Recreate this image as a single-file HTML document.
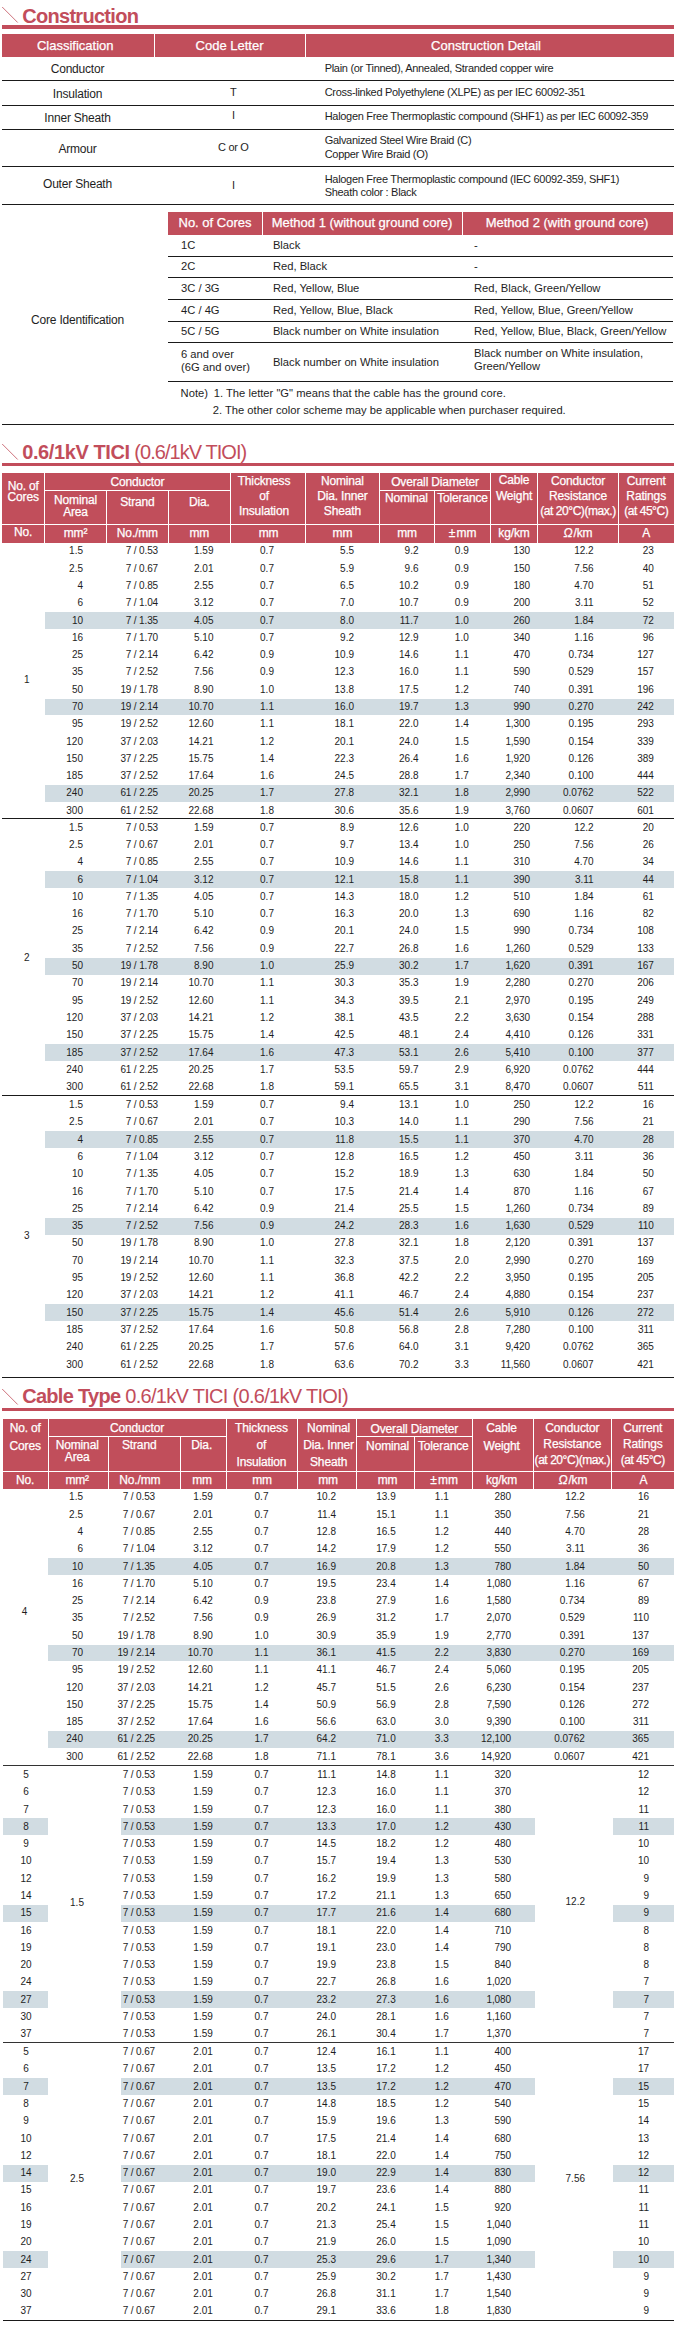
<!DOCTYPE html>
<html><head><meta charset="utf-8"><style>
html,body{margin:0;padding:0;background:#fff}
body{position:relative;width:676px;height:2325px;overflow:hidden;font-family:"Liberation Sans",sans-serif;color:#1e1e1e}
.b{position:absolute}
.t{position:absolute;white-space:pre;line-height:1}
.h{-webkit-text-stroke:0.25px #fff}
</style></head><body>
<svg class="b" style="left:0;top:6.00px" width="22" height="20"><line x1="2.2" y1="1" x2="17.7" y2="16.5" stroke="#c24d5b" stroke-width="1" stroke-opacity="0.8"/></svg>
<div class="t" style="left:22.2px;top:5.57px;font-size:20px;color:#c24d5b;letter-spacing:-0.7px"><span style="font-weight:700;letter-spacing:-0.7px">Construction</span></div>
<div class="b" style="left:2.00px;top:25.00px;width:672.00px;height:4.00px;background:#c24d5b"></div>
<div class="b" style="left:2.00px;top:34.00px;width:672.00px;height:23.00px;background:#c14e5b"></div>
<div class="b" style="left:153.50px;top:34.00px;width:1.20px;height:23.00px;background:#fff"></div>
<div class="b" style="left:304.50px;top:34.00px;width:1.20px;height:23.00px;background:#fff"></div>
<div class="t h" style="top:39px;font-size:13px;color:#fff;left:-224.80px;width:600px;text-align:center;">Classification</div>
<div class="t h" style="top:39px;font-size:13px;color:#fff;left:-70.50px;width:600px;text-align:center;">Code Letter</div>
<div class="t h" style="top:39px;font-size:13px;color:#fff;left:186.00px;width:600px;text-align:center;">Construction Detail</div>
<div class="b" style="left:2.00px;top:79.70px;width:672.00px;height:1.00px;background:#1a1a1a"></div>
<div class="b" style="left:2.00px;top:104.70px;width:672.00px;height:1.00px;background:#1a1a1a"></div>
<div class="b" style="left:2.00px;top:129.00px;width:672.00px;height:1.00px;background:#1a1a1a"></div>
<div class="b" style="left:2.00px;top:165.70px;width:672.00px;height:1.00px;background:#1a1a1a"></div>
<div class="b" style="left:2.00px;top:203.80px;width:672.00px;height:1.00px;background:#1a1a1a"></div>
<div class="b" style="left:2.00px;top:423.90px;width:672.00px;height:1.00px;background:#1a1a1a"></div>
<div class="t" style="top:63px;font-size:12px;letter-spacing:-0.2px;left:-222.50px;width:600px;text-align:center;">Conductor</div>
<div class="t" style="top:88px;font-size:12px;letter-spacing:-0.2px;left:-222.50px;width:600px;text-align:center;">Insulation</div>
<div class="t" style="top:112px;font-size:12px;letter-spacing:-0.2px;left:-222.50px;width:600px;text-align:center;">Inner Sheath</div>
<div class="t" style="top:143px;font-size:12px;letter-spacing:-0.2px;left:-222.50px;width:600px;text-align:center;">Armour</div>
<div class="t" style="top:178px;font-size:12px;letter-spacing:-0.2px;left:-222.50px;width:600px;text-align:center;">Outer Sheath</div>
<div class="t" style="top:314px;font-size:12px;letter-spacing:-0.2px;left:-222.50px;width:600px;text-align:center;">Core Identification</div>
<div class="t" style="top:87px;font-size:11px;letter-spacing:-0.3px;left:-66.70px;width:600px;text-align:center;">T</div>
<div class="t" style="top:110px;font-size:11px;letter-spacing:-0.3px;left:-66.70px;width:600px;text-align:center;">I</div>
<div class="t" style="top:142px;font-size:11px;letter-spacing:-0.3px;left:-66.70px;width:600px;text-align:center;">C or O</div>
<div class="t" style="top:180px;font-size:11px;letter-spacing:-0.3px;left:-66.70px;width:600px;text-align:center;">I</div>
<div class="t" style="top:63px;font-size:11px;letter-spacing:-0.3px;left:324.70px;">Plain (or Tinned), Annealed, Stranded copper wire</div>
<div class="t" style="top:87px;font-size:11px;letter-spacing:-0.3px;left:324.70px;">Cross-linked Polyethylene (XLPE) as per IEC 60092-351</div>
<div class="t" style="top:111px;font-size:11px;letter-spacing:-0.3px;left:324.70px;">Halogen Free Thermoplastic compound (SHF1) as per IEC 60092-359</div>
<div class="t" style="top:135px;font-size:11px;letter-spacing:-0.3px;left:324.70px;">Galvanized Steel Wire Braid (C)</div>
<div class="t" style="top:149px;font-size:11px;letter-spacing:-0.3px;left:324.70px;">Copper Wire Braid (O)</div>
<div class="t" style="top:174px;font-size:11px;letter-spacing:-0.3px;left:324.70px;">Halogen Free Thermoplastic compound (IEC 60092-359, SHF1)</div>
<div class="t" style="top:187px;font-size:11px;letter-spacing:-0.3px;left:324.70px;">Sheath color : Black</div>
<div class="b" style="left:168.00px;top:212.00px;width:505.00px;height:23.00px;background:#c14e5b"></div>
<div class="b" style="left:261.50px;top:212.00px;width:1.20px;height:23.00px;background:#fff"></div>
<div class="b" style="left:461.50px;top:212.00px;width:1.20px;height:23.00px;background:#fff"></div>
<div class="t h" style="top:216px;font-size:13px;color:#fff;left:-85.00px;width:600px;text-align:center;">No. of Cores</div>
<div class="t h" style="top:216px;font-size:13px;color:#fff;left:62.00px;width:600px;text-align:center;">Method 1 (without ground core)</div>
<div class="t h" style="top:216px;font-size:13px;color:#fff;left:267.00px;width:600px;text-align:center;">Method 2 (with ground core)</div>
<div class="b" style="left:168.00px;top:256.00px;width:505.00px;height:1.00px;background:#1a1a1a"></div>
<div class="b" style="left:168.00px;top:277.00px;width:505.00px;height:1.00px;background:#1a1a1a"></div>
<div class="b" style="left:168.00px;top:299.00px;width:505.00px;height:1.00px;background:#1a1a1a"></div>
<div class="b" style="left:168.00px;top:321.10px;width:505.00px;height:1.00px;background:#1a1a1a"></div>
<div class="b" style="left:168.00px;top:342.30px;width:505.00px;height:1.00px;background:#1a1a1a"></div>
<div class="b" style="left:168.00px;top:380.80px;width:505.00px;height:1.00px;background:#1a1a1a"></div>
<div class="t" style="top:240px;font-size:11.2px;left:181.00px;">1C</div>
<div class="t" style="top:240px;font-size:11.2px;left:272.90px;">Black</div>
<div class="t" style="top:240px;font-size:11.2px;left:474.00px;">-</div>
<div class="t" style="top:261px;font-size:11.2px;left:181.00px;">2C</div>
<div class="t" style="top:261px;font-size:11.2px;left:272.90px;">Red, Black</div>
<div class="t" style="top:261px;font-size:11.2px;left:474.00px;">-</div>
<div class="t" style="top:283px;font-size:11.2px;left:181.00px;">3C / 3G</div>
<div class="t" style="top:283px;font-size:11.2px;left:272.90px;">Red, Yellow, Blue</div>
<div class="t" style="top:283px;font-size:11.2px;left:474.00px;">Red, Black, Green/Yellow</div>
<div class="t" style="top:305px;font-size:11.2px;left:181.00px;">4C / 4G</div>
<div class="t" style="top:305px;font-size:11.2px;left:272.90px;">Red, Yellow, Blue, Black</div>
<div class="t" style="top:305px;font-size:11.2px;left:474.00px;">Red, Yellow, Blue, Green/Yellow</div>
<div class="t" style="top:326px;font-size:11.2px;left:181.00px;">5C / 5G</div>
<div class="t" style="top:326px;font-size:11.2px;left:272.90px;">Black number on White insulation</div>
<div class="t" style="top:326px;font-size:11.2px;left:474.00px;">Red, Yellow, Blue, Black, Green/Yellow</div>
<div class="t" style="top:349px;font-size:11.2px;left:181.00px;">6 and over</div>
<div class="t" style="top:362px;font-size:11.2px;left:181.00px;">(6G and over)</div>
<div class="t" style="top:357px;font-size:11.2px;left:272.90px;">Black number on White insulation</div>
<div class="t" style="top:348px;font-size:11.2px;left:474.00px;">Black number on White insulation,</div>
<div class="t" style="top:361px;font-size:11.2px;left:474.00px;">Green/Yellow</div>
<div class="t" style="top:388px;font-size:11.2px;left:180.60px;">Note)</div>
<div class="t" style="top:388px;font-size:11.2px;left:213.80px;">1. The letter "G" means that the cable has the ground core.</div>
<div class="t" style="top:405px;font-size:11.2px;left:212.70px;">2. The other color scheme may be applicable when purchaser required.</div>
<svg class="b" style="left:0;top:443.00px" width="22" height="20"><line x1="2.2" y1="1" x2="17.7" y2="16.5" stroke="#c24d5b" stroke-width="1" stroke-opacity="0.8"/></svg>
<div class="t" style="left:22.2px;top:442.07px;font-size:20px;color:#c24d5b;letter-spacing:-0.7px"><span style="font-weight:700;letter-spacing:-0.4px">0.6/1kV TICI</span><span style="font-weight:400;letter-spacing:-0.95px"> (0.6/1kV TIOI)</span></div>
<div class="b" style="left:2.00px;top:463.00px;width:672.00px;height:3.00px;background:#c24d5b"></div>
<div class="b" style="left:2.00px;top:473.00px;width:672.00px;height:69.60px;background:#c14e5b"></div>
<div class="b" style="left:44.00px;top:473.00px;width:1.00px;height:69.60px;background:#fff"></div>
<div class="b" style="left:106.00px;top:490.20px;width:1.00px;height:52.40px;background:#fff"></div>
<div class="b" style="left:168.00px;top:490.20px;width:1.00px;height:52.40px;background:#fff"></div>
<div class="b" style="left:230.00px;top:473.00px;width:1.00px;height:69.60px;background:#fff"></div>
<div class="b" style="left:305.00px;top:473.00px;width:1.00px;height:69.60px;background:#fff"></div>
<div class="b" style="left:379.00px;top:473.00px;width:1.00px;height:69.60px;background:#fff"></div>
<div class="b" style="left:434.00px;top:490.20px;width:1.00px;height:52.40px;background:#fff"></div>
<div class="b" style="left:490.00px;top:473.00px;width:1.00px;height:69.60px;background:#fff"></div>
<div class="b" style="left:537.00px;top:473.00px;width:1.00px;height:69.60px;background:#fff"></div>
<div class="b" style="left:618.00px;top:473.00px;width:1.00px;height:69.60px;background:#fff"></div>
<div class="b" style="left:44.40px;top:490.00px;width:186.00px;height:1.00px;background:#fff"></div>
<div class="b" style="left:379.50px;top:490.00px;width:110.90px;height:1.00px;background:#fff"></div>
<div class="b" style="left:2.00px;top:524.00px;width:672.00px;height:1.00px;background:#fff"></div>
<div class="t h" style="top:480px;font-size:12px;color:#fff;letter-spacing:-0.15px;left:-276.80px;width:600px;text-align:center;">No. of</div>
<div class="t h" style="top:491px;font-size:12px;color:#fff;letter-spacing:-0.15px;left:-276.80px;width:600px;text-align:center;">Cores</div>
<div class="t h" style="top:476px;font-size:12px;color:#fff;letter-spacing:-0.15px;left:-162.60px;width:600px;text-align:center;">Conductor</div>
<div class="t h" style="top:494px;font-size:12px;color:#fff;letter-spacing:-0.15px;left:-224.50px;width:600px;text-align:center;">Nominal</div>
<div class="t h" style="top:506px;font-size:12px;color:#fff;letter-spacing:-0.15px;left:-224.50px;width:600px;text-align:center;">Area</div>
<div class="t h" style="top:496px;font-size:12px;color:#fff;letter-spacing:-0.15px;left:-162.60px;width:600px;text-align:center;">Strand</div>
<div class="t h" style="top:496px;font-size:12px;color:#fff;letter-spacing:-0.15px;left:-100.70px;width:600px;text-align:center;">Dia.</div>
<div class="t h" style="top:475px;font-size:12px;color:#fff;letter-spacing:-0.15px;left:-36.00px;width:600px;text-align:center;">Thickness</div>
<div class="t h" style="top:490px;font-size:12px;color:#fff;letter-spacing:-0.15px;left:-36.00px;width:600px;text-align:center;">of</div>
<div class="t h" style="top:505px;font-size:12px;color:#fff;letter-spacing:-0.15px;left:-36.00px;width:600px;text-align:center;">Insulation</div>
<div class="t h" style="top:475px;font-size:12px;color:#fff;letter-spacing:-0.15px;left:42.40px;width:600px;text-align:center;">Nominal</div>
<div class="t h" style="top:490px;font-size:12px;color:#fff;letter-spacing:-0.15px;left:42.40px;width:600px;text-align:center;">Dia. Inner</div>
<div class="t h" style="top:505px;font-size:12px;color:#fff;letter-spacing:-0.15px;left:42.40px;width:600px;text-align:center;">Sheath</div>
<div class="t h" style="top:476px;font-size:12px;color:#fff;letter-spacing:-0.15px;left:135.00px;width:600px;text-align:center;">Overall Diameter</div>
<div class="t h" style="top:492px;font-size:12px;color:#fff;letter-spacing:-0.15px;left:106.40px;width:600px;text-align:center;">Nominal</div>
<div class="t h" style="top:492px;font-size:12px;color:#fff;letter-spacing:-0.15px;left:162.50px;width:600px;text-align:center;">Tolerance</div>
<div class="t h" style="top:474px;font-size:12px;color:#fff;letter-spacing:-0.15px;left:214.00px;width:600px;text-align:center;">Cable</div>
<div class="t h" style="top:490px;font-size:12px;color:#fff;letter-spacing:-0.15px;left:214.00px;width:600px;text-align:center;">Weight</div>
<div class="t h" style="top:475px;font-size:12px;color:#fff;letter-spacing:-0.15px;left:278.00px;width:600px;text-align:center;">Conductor</div>
<div class="t h" style="top:490px;font-size:12px;color:#fff;letter-spacing:-0.15px;left:278.00px;width:600px;text-align:center;">Resistance</div>
<div class="t h" style="top:505px;font-size:12px;color:#fff;letter-spacing:-0.45px;left:278.00px;width:600px;text-align:center;">(at 20°C)(max.)</div>
<div class="t h" style="top:475px;font-size:12px;color:#fff;letter-spacing:-0.15px;left:346.20px;width:600px;text-align:center;">Current</div>
<div class="t h" style="top:490px;font-size:12px;color:#fff;letter-spacing:-0.15px;left:346.20px;width:600px;text-align:center;">Ratings</div>
<div class="t h" style="top:505px;font-size:12px;color:#fff;letter-spacing:-0.45px;left:346.20px;width:600px;text-align:center;">(at 45°C)</div>
<div class="t h" style="top:526px;font-size:12px;color:#fff;letter-spacing:-0.15px;left:-276.80px;width:600px;text-align:center;">No.</div>
<div class="t h" style="top:527px;font-size:12px;color:#fff;letter-spacing:-0.15px;left:-224.50px;width:600px;text-align:center;">mm²</div>
<div class="t h" style="top:527px;font-size:12px;color:#fff;letter-spacing:-0.15px;left:-162.60px;width:600px;text-align:center;">No./mm</div>
<div class="t h" style="top:527px;font-size:12px;color:#fff;letter-spacing:-0.15px;left:-100.70px;width:600px;text-align:center;">mm</div>
<div class="t h" style="top:527px;font-size:12px;color:#fff;letter-spacing:-0.15px;left:-31.40px;width:600px;text-align:center;">mm</div>
<div class="t h" style="top:527px;font-size:12px;color:#fff;letter-spacing:-0.15px;left:42.40px;width:600px;text-align:center;">mm</div>
<div class="t h" style="top:527px;font-size:12px;color:#fff;letter-spacing:-0.15px;left:107.00px;width:600px;text-align:center;">mm</div>
<div class="t h" style="top:527px;font-size:12px;color:#fff;letter-spacing:-0.15px;left:162.50px;width:600px;text-align:center;"><span style="margin-right:1.5px">±</span>mm</div>
<div class="t h" style="top:527px;font-size:12px;color:#fff;letter-spacing:-0.15px;left:214.00px;width:600px;text-align:center;">kg/km</div>
<div class="t h" style="top:527px;font-size:12px;color:#fff;letter-spacing:-0.15px;left:278.00px;width:600px;text-align:center;"><i style="margin-right:1px">Ω</i>/km</div>
<div class="t h" style="top:527px;font-size:12px;color:#fff;letter-spacing:-0.15px;left:346.20px;width:600px;text-align:center;">A</div>
<div class="b" style="left:44.90px;top:612.16px;width:629.10px;height:16.89px;background:#d1dce2"></div>
<div class="b" style="left:44.90px;top:698.61px;width:629.10px;height:16.89px;background:#d1dce2"></div>
<div class="b" style="left:44.90px;top:785.06px;width:629.10px;height:16.89px;background:#d1dce2"></div>
<div class="t" style="top:546px;font-size:10px;left:-517.00px;width:600px;text-align:right;">1.5</div>
<div class="t" style="top:546px;font-size:10px;letter-spacing:-0.15px;left:-442.00px;width:600px;text-align:right;">7 / 0.53</div>
<div class="t" style="top:546px;font-size:10px;left:-386.50px;width:600px;text-align:right;">1.59</div>
<div class="t" style="top:546px;font-size:10px;left:-33.00px;width:600px;text-align:center;">0.7</div>
<div class="t" style="top:546px;font-size:10px;left:-246.00px;width:600px;text-align:right;">5.5</div>
<div class="t" style="top:546px;font-size:10px;left:-181.50px;width:600px;text-align:right;">9.2</div>
<div class="t" style="top:546px;font-size:10px;left:161.80px;width:600px;text-align:center;">0.9</div>
<div class="t" style="top:546px;font-size:10px;letter-spacing:-0.1px;left:-70.10px;width:600px;text-align:right;">130</div>
<div class="t" style="top:546px;font-size:10px;left:-6.40px;width:600px;text-align:right;">12.2</div>
<div class="t" style="top:546px;font-size:10px;left:53.90px;width:600px;text-align:right;">23</div>
<div class="t" style="top:564px;font-size:10px;left:-517.00px;width:600px;text-align:right;">2.5</div>
<div class="t" style="top:564px;font-size:10px;letter-spacing:-0.15px;left:-442.00px;width:600px;text-align:right;">7 / 0.67</div>
<div class="t" style="top:564px;font-size:10px;left:-386.50px;width:600px;text-align:right;">2.01</div>
<div class="t" style="top:564px;font-size:10px;left:-33.00px;width:600px;text-align:center;">0.7</div>
<div class="t" style="top:564px;font-size:10px;left:-246.00px;width:600px;text-align:right;">5.9</div>
<div class="t" style="top:564px;font-size:10px;left:-181.50px;width:600px;text-align:right;">9.6</div>
<div class="t" style="top:564px;font-size:10px;left:161.80px;width:600px;text-align:center;">0.9</div>
<div class="t" style="top:564px;font-size:10px;letter-spacing:-0.1px;left:-70.10px;width:600px;text-align:right;">150</div>
<div class="t" style="top:564px;font-size:10px;left:-6.40px;width:600px;text-align:right;">7.56</div>
<div class="t" style="top:564px;font-size:10px;left:53.90px;width:600px;text-align:right;">40</div>
<div class="t" style="top:581px;font-size:10px;left:-517.00px;width:600px;text-align:right;">4</div>
<div class="t" style="top:581px;font-size:10px;letter-spacing:-0.15px;left:-442.00px;width:600px;text-align:right;">7 / 0.85</div>
<div class="t" style="top:581px;font-size:10px;left:-386.50px;width:600px;text-align:right;">2.55</div>
<div class="t" style="top:581px;font-size:10px;left:-33.00px;width:600px;text-align:center;">0.7</div>
<div class="t" style="top:581px;font-size:10px;left:-246.00px;width:600px;text-align:right;">6.5</div>
<div class="t" style="top:581px;font-size:10px;left:-181.50px;width:600px;text-align:right;">10.2</div>
<div class="t" style="top:581px;font-size:10px;left:161.80px;width:600px;text-align:center;">0.9</div>
<div class="t" style="top:581px;font-size:10px;letter-spacing:-0.1px;left:-70.10px;width:600px;text-align:right;">180</div>
<div class="t" style="top:581px;font-size:10px;left:-6.40px;width:600px;text-align:right;">4.70</div>
<div class="t" style="top:581px;font-size:10px;left:53.90px;width:600px;text-align:right;">51</div>
<div class="t" style="top:598px;font-size:10px;left:-517.00px;width:600px;text-align:right;">6</div>
<div class="t" style="top:598px;font-size:10px;letter-spacing:-0.15px;left:-442.00px;width:600px;text-align:right;">7 / 1.04</div>
<div class="t" style="top:598px;font-size:10px;left:-386.50px;width:600px;text-align:right;">3.12</div>
<div class="t" style="top:598px;font-size:10px;left:-33.00px;width:600px;text-align:center;">0.7</div>
<div class="t" style="top:598px;font-size:10px;left:-246.00px;width:600px;text-align:right;">7.0</div>
<div class="t" style="top:598px;font-size:10px;left:-181.50px;width:600px;text-align:right;">10.7</div>
<div class="t" style="top:598px;font-size:10px;left:161.80px;width:600px;text-align:center;">0.9</div>
<div class="t" style="top:598px;font-size:10px;letter-spacing:-0.1px;left:-70.10px;width:600px;text-align:right;">200</div>
<div class="t" style="top:598px;font-size:10px;left:-6.40px;width:600px;text-align:right;">3.11</div>
<div class="t" style="top:598px;font-size:10px;left:53.90px;width:600px;text-align:right;">52</div>
<div class="t" style="top:616px;font-size:10px;left:-517.00px;width:600px;text-align:right;">10</div>
<div class="t" style="top:616px;font-size:10px;letter-spacing:-0.15px;left:-442.00px;width:600px;text-align:right;">7 / 1.35</div>
<div class="t" style="top:616px;font-size:10px;left:-386.50px;width:600px;text-align:right;">4.05</div>
<div class="t" style="top:616px;font-size:10px;left:-33.00px;width:600px;text-align:center;">0.7</div>
<div class="t" style="top:616px;font-size:10px;left:-246.00px;width:600px;text-align:right;">8.0</div>
<div class="t" style="top:616px;font-size:10px;left:-181.50px;width:600px;text-align:right;">11.7</div>
<div class="t" style="top:616px;font-size:10px;left:161.80px;width:600px;text-align:center;">1.0</div>
<div class="t" style="top:616px;font-size:10px;letter-spacing:-0.1px;left:-70.10px;width:600px;text-align:right;">260</div>
<div class="t" style="top:616px;font-size:10px;left:-6.40px;width:600px;text-align:right;">1.84</div>
<div class="t" style="top:616px;font-size:10px;left:53.90px;width:600px;text-align:right;">72</div>
<div class="t" style="top:633px;font-size:10px;left:-517.00px;width:600px;text-align:right;">16</div>
<div class="t" style="top:633px;font-size:10px;letter-spacing:-0.15px;left:-442.00px;width:600px;text-align:right;">7 / 1.70</div>
<div class="t" style="top:633px;font-size:10px;left:-386.50px;width:600px;text-align:right;">5.10</div>
<div class="t" style="top:633px;font-size:10px;left:-33.00px;width:600px;text-align:center;">0.7</div>
<div class="t" style="top:633px;font-size:10px;left:-246.00px;width:600px;text-align:right;">9.2</div>
<div class="t" style="top:633px;font-size:10px;left:-181.50px;width:600px;text-align:right;">12.9</div>
<div class="t" style="top:633px;font-size:10px;left:161.80px;width:600px;text-align:center;">1.0</div>
<div class="t" style="top:633px;font-size:10px;letter-spacing:-0.1px;left:-70.10px;width:600px;text-align:right;">340</div>
<div class="t" style="top:633px;font-size:10px;left:-6.40px;width:600px;text-align:right;">1.16</div>
<div class="t" style="top:633px;font-size:10px;left:53.90px;width:600px;text-align:right;">96</div>
<div class="t" style="top:650px;font-size:10px;left:-517.00px;width:600px;text-align:right;">25</div>
<div class="t" style="top:650px;font-size:10px;letter-spacing:-0.15px;left:-442.00px;width:600px;text-align:right;">7 / 2.14</div>
<div class="t" style="top:650px;font-size:10px;left:-386.50px;width:600px;text-align:right;">6.42</div>
<div class="t" style="top:650px;font-size:10px;left:-33.00px;width:600px;text-align:center;">0.9</div>
<div class="t" style="top:650px;font-size:10px;left:-246.00px;width:600px;text-align:right;">10.9</div>
<div class="t" style="top:650px;font-size:10px;left:-181.50px;width:600px;text-align:right;">14.6</div>
<div class="t" style="top:650px;font-size:10px;left:161.80px;width:600px;text-align:center;">1.1</div>
<div class="t" style="top:650px;font-size:10px;letter-spacing:-0.1px;left:-70.10px;width:600px;text-align:right;">470</div>
<div class="t" style="top:650px;font-size:10px;left:-6.40px;width:600px;text-align:right;">0.734</div>
<div class="t" style="top:650px;font-size:10px;left:53.90px;width:600px;text-align:right;">127</div>
<div class="t" style="top:667px;font-size:10px;left:-517.00px;width:600px;text-align:right;">35</div>
<div class="t" style="top:667px;font-size:10px;letter-spacing:-0.15px;left:-442.00px;width:600px;text-align:right;">7 / 2.52</div>
<div class="t" style="top:667px;font-size:10px;left:-386.50px;width:600px;text-align:right;">7.56</div>
<div class="t" style="top:667px;font-size:10px;left:-33.00px;width:600px;text-align:center;">0.9</div>
<div class="t" style="top:667px;font-size:10px;left:-246.00px;width:600px;text-align:right;">12.3</div>
<div class="t" style="top:667px;font-size:10px;left:-181.50px;width:600px;text-align:right;">16.0</div>
<div class="t" style="top:667px;font-size:10px;left:161.80px;width:600px;text-align:center;">1.1</div>
<div class="t" style="top:667px;font-size:10px;letter-spacing:-0.1px;left:-70.10px;width:600px;text-align:right;">590</div>
<div class="t" style="top:667px;font-size:10px;left:-6.40px;width:600px;text-align:right;">0.529</div>
<div class="t" style="top:667px;font-size:10px;left:53.90px;width:600px;text-align:right;">157</div>
<div class="t" style="top:685px;font-size:10px;left:-517.00px;width:600px;text-align:right;">50</div>
<div class="t" style="top:685px;font-size:10px;letter-spacing:-0.15px;left:-442.00px;width:600px;text-align:right;">19 / 1.78</div>
<div class="t" style="top:685px;font-size:10px;left:-386.50px;width:600px;text-align:right;">8.90</div>
<div class="t" style="top:685px;font-size:10px;left:-33.00px;width:600px;text-align:center;">1.0</div>
<div class="t" style="top:685px;font-size:10px;left:-246.00px;width:600px;text-align:right;">13.8</div>
<div class="t" style="top:685px;font-size:10px;left:-181.50px;width:600px;text-align:right;">17.5</div>
<div class="t" style="top:685px;font-size:10px;left:161.80px;width:600px;text-align:center;">1.2</div>
<div class="t" style="top:685px;font-size:10px;letter-spacing:-0.1px;left:-70.10px;width:600px;text-align:right;">740</div>
<div class="t" style="top:685px;font-size:10px;left:-6.40px;width:600px;text-align:right;">0.391</div>
<div class="t" style="top:685px;font-size:10px;left:53.90px;width:600px;text-align:right;">196</div>
<div class="t" style="top:702px;font-size:10px;left:-517.00px;width:600px;text-align:right;">70</div>
<div class="t" style="top:702px;font-size:10px;letter-spacing:-0.15px;left:-442.00px;width:600px;text-align:right;">19 / 2.14</div>
<div class="t" style="top:702px;font-size:10px;left:-386.50px;width:600px;text-align:right;">10.70</div>
<div class="t" style="top:702px;font-size:10px;left:-33.00px;width:600px;text-align:center;">1.1</div>
<div class="t" style="top:702px;font-size:10px;left:-246.00px;width:600px;text-align:right;">16.0</div>
<div class="t" style="top:702px;font-size:10px;left:-181.50px;width:600px;text-align:right;">19.7</div>
<div class="t" style="top:702px;font-size:10px;left:161.80px;width:600px;text-align:center;">1.3</div>
<div class="t" style="top:702px;font-size:10px;letter-spacing:-0.1px;left:-70.10px;width:600px;text-align:right;">990</div>
<div class="t" style="top:702px;font-size:10px;left:-6.40px;width:600px;text-align:right;">0.270</div>
<div class="t" style="top:702px;font-size:10px;left:53.90px;width:600px;text-align:right;">242</div>
<div class="t" style="top:719px;font-size:10px;left:-517.00px;width:600px;text-align:right;">95</div>
<div class="t" style="top:719px;font-size:10px;letter-spacing:-0.15px;left:-442.00px;width:600px;text-align:right;">19 / 2.52</div>
<div class="t" style="top:719px;font-size:10px;left:-386.50px;width:600px;text-align:right;">12.60</div>
<div class="t" style="top:719px;font-size:10px;left:-33.00px;width:600px;text-align:center;">1.1</div>
<div class="t" style="top:719px;font-size:10px;left:-246.00px;width:600px;text-align:right;">18.1</div>
<div class="t" style="top:719px;font-size:10px;left:-181.50px;width:600px;text-align:right;">22.0</div>
<div class="t" style="top:719px;font-size:10px;left:161.80px;width:600px;text-align:center;">1.4</div>
<div class="t" style="top:719px;font-size:10px;letter-spacing:-0.1px;left:-70.10px;width:600px;text-align:right;">1,300</div>
<div class="t" style="top:719px;font-size:10px;left:-6.40px;width:600px;text-align:right;">0.195</div>
<div class="t" style="top:719px;font-size:10px;left:53.90px;width:600px;text-align:right;">293</div>
<div class="t" style="top:737px;font-size:10px;left:-517.00px;width:600px;text-align:right;">120</div>
<div class="t" style="top:737px;font-size:10px;letter-spacing:-0.15px;left:-442.00px;width:600px;text-align:right;">37 / 2.03</div>
<div class="t" style="top:737px;font-size:10px;left:-386.50px;width:600px;text-align:right;">14.21</div>
<div class="t" style="top:737px;font-size:10px;left:-33.00px;width:600px;text-align:center;">1.2</div>
<div class="t" style="top:737px;font-size:10px;left:-246.00px;width:600px;text-align:right;">20.1</div>
<div class="t" style="top:737px;font-size:10px;left:-181.50px;width:600px;text-align:right;">24.0</div>
<div class="t" style="top:737px;font-size:10px;left:161.80px;width:600px;text-align:center;">1.5</div>
<div class="t" style="top:737px;font-size:10px;letter-spacing:-0.1px;left:-70.10px;width:600px;text-align:right;">1,590</div>
<div class="t" style="top:737px;font-size:10px;left:-6.40px;width:600px;text-align:right;">0.154</div>
<div class="t" style="top:737px;font-size:10px;left:53.90px;width:600px;text-align:right;">339</div>
<div class="t" style="top:754px;font-size:10px;left:-517.00px;width:600px;text-align:right;">150</div>
<div class="t" style="top:754px;font-size:10px;letter-spacing:-0.15px;left:-442.00px;width:600px;text-align:right;">37 / 2.25</div>
<div class="t" style="top:754px;font-size:10px;left:-386.50px;width:600px;text-align:right;">15.75</div>
<div class="t" style="top:754px;font-size:10px;left:-33.00px;width:600px;text-align:center;">1.4</div>
<div class="t" style="top:754px;font-size:10px;left:-246.00px;width:600px;text-align:right;">22.3</div>
<div class="t" style="top:754px;font-size:10px;left:-181.50px;width:600px;text-align:right;">26.4</div>
<div class="t" style="top:754px;font-size:10px;left:161.80px;width:600px;text-align:center;">1.6</div>
<div class="t" style="top:754px;font-size:10px;letter-spacing:-0.1px;left:-70.10px;width:600px;text-align:right;">1,920</div>
<div class="t" style="top:754px;font-size:10px;left:-6.40px;width:600px;text-align:right;">0.126</div>
<div class="t" style="top:754px;font-size:10px;left:53.90px;width:600px;text-align:right;">389</div>
<div class="t" style="top:771px;font-size:10px;left:-517.00px;width:600px;text-align:right;">185</div>
<div class="t" style="top:771px;font-size:10px;letter-spacing:-0.15px;left:-442.00px;width:600px;text-align:right;">37 / 2.52</div>
<div class="t" style="top:771px;font-size:10px;left:-386.50px;width:600px;text-align:right;">17.64</div>
<div class="t" style="top:771px;font-size:10px;left:-33.00px;width:600px;text-align:center;">1.6</div>
<div class="t" style="top:771px;font-size:10px;left:-246.00px;width:600px;text-align:right;">24.5</div>
<div class="t" style="top:771px;font-size:10px;left:-181.50px;width:600px;text-align:right;">28.8</div>
<div class="t" style="top:771px;font-size:10px;left:161.80px;width:600px;text-align:center;">1.7</div>
<div class="t" style="top:771px;font-size:10px;letter-spacing:-0.1px;left:-70.10px;width:600px;text-align:right;">2,340</div>
<div class="t" style="top:771px;font-size:10px;left:-6.40px;width:600px;text-align:right;">0.100</div>
<div class="t" style="top:771px;font-size:10px;left:53.90px;width:600px;text-align:right;">444</div>
<div class="t" style="top:788px;font-size:10px;left:-517.00px;width:600px;text-align:right;">240</div>
<div class="t" style="top:788px;font-size:10px;letter-spacing:-0.15px;left:-442.00px;width:600px;text-align:right;">61 / 2.25</div>
<div class="t" style="top:788px;font-size:10px;left:-386.50px;width:600px;text-align:right;">20.25</div>
<div class="t" style="top:788px;font-size:10px;left:-33.00px;width:600px;text-align:center;">1.7</div>
<div class="t" style="top:788px;font-size:10px;left:-246.00px;width:600px;text-align:right;">27.8</div>
<div class="t" style="top:788px;font-size:10px;left:-181.50px;width:600px;text-align:right;">32.1</div>
<div class="t" style="top:788px;font-size:10px;left:161.80px;width:600px;text-align:center;">1.8</div>
<div class="t" style="top:788px;font-size:10px;letter-spacing:-0.1px;left:-70.10px;width:600px;text-align:right;">2,990</div>
<div class="t" style="top:788px;font-size:10px;left:-6.40px;width:600px;text-align:right;">0.0762</div>
<div class="t" style="top:788px;font-size:10px;left:53.90px;width:600px;text-align:right;">522</div>
<div class="t" style="top:806px;font-size:10px;left:-517.00px;width:600px;text-align:right;">300</div>
<div class="t" style="top:806px;font-size:10px;letter-spacing:-0.15px;left:-442.00px;width:600px;text-align:right;">61 / 2.52</div>
<div class="t" style="top:806px;font-size:10px;left:-386.50px;width:600px;text-align:right;">22.68</div>
<div class="t" style="top:806px;font-size:10px;left:-33.00px;width:600px;text-align:center;">1.8</div>
<div class="t" style="top:806px;font-size:10px;left:-246.00px;width:600px;text-align:right;">30.6</div>
<div class="t" style="top:806px;font-size:10px;left:-181.50px;width:600px;text-align:right;">35.6</div>
<div class="t" style="top:806px;font-size:10px;left:161.80px;width:600px;text-align:center;">1.9</div>
<div class="t" style="top:806px;font-size:10px;letter-spacing:-0.1px;left:-70.10px;width:600px;text-align:right;">3,760</div>
<div class="t" style="top:806px;font-size:10px;left:-6.40px;width:600px;text-align:right;">0.0607</div>
<div class="t" style="top:806px;font-size:10px;left:53.90px;width:600px;text-align:right;">601</div>
<div class="t" style="top:675px;font-size:10px;left:-273.20px;width:600px;text-align:center;">1</div>
<div class="b" style="left:2.00px;top:817.80px;width:672.00px;height:1.00px;background:#1a1a1a"></div>
<div class="b" style="left:44.90px;top:871.27px;width:629.10px;height:16.89px;background:#d1dce2"></div>
<div class="b" style="left:44.90px;top:957.72px;width:629.10px;height:16.89px;background:#d1dce2"></div>
<div class="b" style="left:44.90px;top:1044.17px;width:629.10px;height:16.89px;background:#d1dce2"></div>
<div class="t" style="top:823px;font-size:10px;left:-517.00px;width:600px;text-align:right;">1.5</div>
<div class="t" style="top:823px;font-size:10px;letter-spacing:-0.15px;left:-442.00px;width:600px;text-align:right;">7 / 0.53</div>
<div class="t" style="top:823px;font-size:10px;left:-386.50px;width:600px;text-align:right;">1.59</div>
<div class="t" style="top:823px;font-size:10px;left:-33.00px;width:600px;text-align:center;">0.7</div>
<div class="t" style="top:823px;font-size:10px;left:-246.00px;width:600px;text-align:right;">8.9</div>
<div class="t" style="top:823px;font-size:10px;left:-181.50px;width:600px;text-align:right;">12.6</div>
<div class="t" style="top:823px;font-size:10px;left:161.80px;width:600px;text-align:center;">1.0</div>
<div class="t" style="top:823px;font-size:10px;letter-spacing:-0.1px;left:-70.10px;width:600px;text-align:right;">220</div>
<div class="t" style="top:823px;font-size:10px;left:-6.40px;width:600px;text-align:right;">12.2</div>
<div class="t" style="top:823px;font-size:10px;left:53.90px;width:600px;text-align:right;">20</div>
<div class="t" style="top:840px;font-size:10px;left:-517.00px;width:600px;text-align:right;">2.5</div>
<div class="t" style="top:840px;font-size:10px;letter-spacing:-0.15px;left:-442.00px;width:600px;text-align:right;">7 / 0.67</div>
<div class="t" style="top:840px;font-size:10px;left:-386.50px;width:600px;text-align:right;">2.01</div>
<div class="t" style="top:840px;font-size:10px;left:-33.00px;width:600px;text-align:center;">0.7</div>
<div class="t" style="top:840px;font-size:10px;left:-246.00px;width:600px;text-align:right;">9.7</div>
<div class="t" style="top:840px;font-size:10px;left:-181.50px;width:600px;text-align:right;">13.4</div>
<div class="t" style="top:840px;font-size:10px;left:161.80px;width:600px;text-align:center;">1.0</div>
<div class="t" style="top:840px;font-size:10px;letter-spacing:-0.1px;left:-70.10px;width:600px;text-align:right;">250</div>
<div class="t" style="top:840px;font-size:10px;left:-6.40px;width:600px;text-align:right;">7.56</div>
<div class="t" style="top:840px;font-size:10px;left:53.90px;width:600px;text-align:right;">26</div>
<div class="t" style="top:857px;font-size:10px;left:-517.00px;width:600px;text-align:right;">4</div>
<div class="t" style="top:857px;font-size:10px;letter-spacing:-0.15px;left:-442.00px;width:600px;text-align:right;">7 / 0.85</div>
<div class="t" style="top:857px;font-size:10px;left:-386.50px;width:600px;text-align:right;">2.55</div>
<div class="t" style="top:857px;font-size:10px;left:-33.00px;width:600px;text-align:center;">0.7</div>
<div class="t" style="top:857px;font-size:10px;left:-246.00px;width:600px;text-align:right;">10.9</div>
<div class="t" style="top:857px;font-size:10px;left:-181.50px;width:600px;text-align:right;">14.6</div>
<div class="t" style="top:857px;font-size:10px;left:161.80px;width:600px;text-align:center;">1.1</div>
<div class="t" style="top:857px;font-size:10px;letter-spacing:-0.1px;left:-70.10px;width:600px;text-align:right;">310</div>
<div class="t" style="top:857px;font-size:10px;left:-6.40px;width:600px;text-align:right;">4.70</div>
<div class="t" style="top:857px;font-size:10px;left:53.90px;width:600px;text-align:right;">34</div>
<div class="t" style="top:875px;font-size:10px;left:-517.00px;width:600px;text-align:right;">6</div>
<div class="t" style="top:875px;font-size:10px;letter-spacing:-0.15px;left:-442.00px;width:600px;text-align:right;">7 / 1.04</div>
<div class="t" style="top:875px;font-size:10px;left:-386.50px;width:600px;text-align:right;">3.12</div>
<div class="t" style="top:875px;font-size:10px;left:-33.00px;width:600px;text-align:center;">0.7</div>
<div class="t" style="top:875px;font-size:10px;left:-246.00px;width:600px;text-align:right;">12.1</div>
<div class="t" style="top:875px;font-size:10px;left:-181.50px;width:600px;text-align:right;">15.8</div>
<div class="t" style="top:875px;font-size:10px;left:161.80px;width:600px;text-align:center;">1.1</div>
<div class="t" style="top:875px;font-size:10px;letter-spacing:-0.1px;left:-70.10px;width:600px;text-align:right;">390</div>
<div class="t" style="top:875px;font-size:10px;left:-6.40px;width:600px;text-align:right;">3.11</div>
<div class="t" style="top:875px;font-size:10px;left:53.90px;width:600px;text-align:right;">44</div>
<div class="t" style="top:892px;font-size:10px;left:-517.00px;width:600px;text-align:right;">10</div>
<div class="t" style="top:892px;font-size:10px;letter-spacing:-0.15px;left:-442.00px;width:600px;text-align:right;">7 / 1.35</div>
<div class="t" style="top:892px;font-size:10px;left:-386.50px;width:600px;text-align:right;">4.05</div>
<div class="t" style="top:892px;font-size:10px;left:-33.00px;width:600px;text-align:center;">0.7</div>
<div class="t" style="top:892px;font-size:10px;left:-246.00px;width:600px;text-align:right;">14.3</div>
<div class="t" style="top:892px;font-size:10px;left:-181.50px;width:600px;text-align:right;">18.0</div>
<div class="t" style="top:892px;font-size:10px;left:161.80px;width:600px;text-align:center;">1.2</div>
<div class="t" style="top:892px;font-size:10px;letter-spacing:-0.1px;left:-70.10px;width:600px;text-align:right;">510</div>
<div class="t" style="top:892px;font-size:10px;left:-6.40px;width:600px;text-align:right;">1.84</div>
<div class="t" style="top:892px;font-size:10px;left:53.90px;width:600px;text-align:right;">61</div>
<div class="t" style="top:909px;font-size:10px;left:-517.00px;width:600px;text-align:right;">16</div>
<div class="t" style="top:909px;font-size:10px;letter-spacing:-0.15px;left:-442.00px;width:600px;text-align:right;">7 / 1.70</div>
<div class="t" style="top:909px;font-size:10px;left:-386.50px;width:600px;text-align:right;">5.10</div>
<div class="t" style="top:909px;font-size:10px;left:-33.00px;width:600px;text-align:center;">0.7</div>
<div class="t" style="top:909px;font-size:10px;left:-246.00px;width:600px;text-align:right;">16.3</div>
<div class="t" style="top:909px;font-size:10px;left:-181.50px;width:600px;text-align:right;">20.0</div>
<div class="t" style="top:909px;font-size:10px;left:161.80px;width:600px;text-align:center;">1.3</div>
<div class="t" style="top:909px;font-size:10px;letter-spacing:-0.1px;left:-70.10px;width:600px;text-align:right;">690</div>
<div class="t" style="top:909px;font-size:10px;left:-6.40px;width:600px;text-align:right;">1.16</div>
<div class="t" style="top:909px;font-size:10px;left:53.90px;width:600px;text-align:right;">82</div>
<div class="t" style="top:926px;font-size:10px;left:-517.00px;width:600px;text-align:right;">25</div>
<div class="t" style="top:926px;font-size:10px;letter-spacing:-0.15px;left:-442.00px;width:600px;text-align:right;">7 / 2.14</div>
<div class="t" style="top:926px;font-size:10px;left:-386.50px;width:600px;text-align:right;">6.42</div>
<div class="t" style="top:926px;font-size:10px;left:-33.00px;width:600px;text-align:center;">0.9</div>
<div class="t" style="top:926px;font-size:10px;left:-246.00px;width:600px;text-align:right;">20.1</div>
<div class="t" style="top:926px;font-size:10px;left:-181.50px;width:600px;text-align:right;">24.0</div>
<div class="t" style="top:926px;font-size:10px;left:161.80px;width:600px;text-align:center;">1.5</div>
<div class="t" style="top:926px;font-size:10px;letter-spacing:-0.1px;left:-70.10px;width:600px;text-align:right;">990</div>
<div class="t" style="top:926px;font-size:10px;left:-6.40px;width:600px;text-align:right;">0.734</div>
<div class="t" style="top:926px;font-size:10px;left:53.90px;width:600px;text-align:right;">108</div>
<div class="t" style="top:944px;font-size:10px;left:-517.00px;width:600px;text-align:right;">35</div>
<div class="t" style="top:944px;font-size:10px;letter-spacing:-0.15px;left:-442.00px;width:600px;text-align:right;">7 / 2.52</div>
<div class="t" style="top:944px;font-size:10px;left:-386.50px;width:600px;text-align:right;">7.56</div>
<div class="t" style="top:944px;font-size:10px;left:-33.00px;width:600px;text-align:center;">0.9</div>
<div class="t" style="top:944px;font-size:10px;left:-246.00px;width:600px;text-align:right;">22.7</div>
<div class="t" style="top:944px;font-size:10px;left:-181.50px;width:600px;text-align:right;">26.8</div>
<div class="t" style="top:944px;font-size:10px;left:161.80px;width:600px;text-align:center;">1.6</div>
<div class="t" style="top:944px;font-size:10px;letter-spacing:-0.1px;left:-70.10px;width:600px;text-align:right;">1,260</div>
<div class="t" style="top:944px;font-size:10px;left:-6.40px;width:600px;text-align:right;">0.529</div>
<div class="t" style="top:944px;font-size:10px;left:53.90px;width:600px;text-align:right;">133</div>
<div class="t" style="top:961px;font-size:10px;left:-517.00px;width:600px;text-align:right;">50</div>
<div class="t" style="top:961px;font-size:10px;letter-spacing:-0.15px;left:-442.00px;width:600px;text-align:right;">19 / 1.78</div>
<div class="t" style="top:961px;font-size:10px;left:-386.50px;width:600px;text-align:right;">8.90</div>
<div class="t" style="top:961px;font-size:10px;left:-33.00px;width:600px;text-align:center;">1.0</div>
<div class="t" style="top:961px;font-size:10px;left:-246.00px;width:600px;text-align:right;">25.9</div>
<div class="t" style="top:961px;font-size:10px;left:-181.50px;width:600px;text-align:right;">30.2</div>
<div class="t" style="top:961px;font-size:10px;left:161.80px;width:600px;text-align:center;">1.7</div>
<div class="t" style="top:961px;font-size:10px;letter-spacing:-0.1px;left:-70.10px;width:600px;text-align:right;">1,620</div>
<div class="t" style="top:961px;font-size:10px;left:-6.40px;width:600px;text-align:right;">0.391</div>
<div class="t" style="top:961px;font-size:10px;left:53.90px;width:600px;text-align:right;">167</div>
<div class="t" style="top:978px;font-size:10px;left:-517.00px;width:600px;text-align:right;">70</div>
<div class="t" style="top:978px;font-size:10px;letter-spacing:-0.15px;left:-442.00px;width:600px;text-align:right;">19 / 2.14</div>
<div class="t" style="top:978px;font-size:10px;left:-386.50px;width:600px;text-align:right;">10.70</div>
<div class="t" style="top:978px;font-size:10px;left:-33.00px;width:600px;text-align:center;">1.1</div>
<div class="t" style="top:978px;font-size:10px;left:-246.00px;width:600px;text-align:right;">30.3</div>
<div class="t" style="top:978px;font-size:10px;left:-181.50px;width:600px;text-align:right;">35.3</div>
<div class="t" style="top:978px;font-size:10px;left:161.80px;width:600px;text-align:center;">1.9</div>
<div class="t" style="top:978px;font-size:10px;letter-spacing:-0.1px;left:-70.10px;width:600px;text-align:right;">2,280</div>
<div class="t" style="top:978px;font-size:10px;left:-6.40px;width:600px;text-align:right;">0.270</div>
<div class="t" style="top:978px;font-size:10px;left:53.90px;width:600px;text-align:right;">206</div>
<div class="t" style="top:996px;font-size:10px;left:-517.00px;width:600px;text-align:right;">95</div>
<div class="t" style="top:996px;font-size:10px;letter-spacing:-0.15px;left:-442.00px;width:600px;text-align:right;">19 / 2.52</div>
<div class="t" style="top:996px;font-size:10px;left:-386.50px;width:600px;text-align:right;">12.60</div>
<div class="t" style="top:996px;font-size:10px;left:-33.00px;width:600px;text-align:center;">1.1</div>
<div class="t" style="top:996px;font-size:10px;left:-246.00px;width:600px;text-align:right;">34.3</div>
<div class="t" style="top:996px;font-size:10px;left:-181.50px;width:600px;text-align:right;">39.5</div>
<div class="t" style="top:996px;font-size:10px;left:161.80px;width:600px;text-align:center;">2.1</div>
<div class="t" style="top:996px;font-size:10px;letter-spacing:-0.1px;left:-70.10px;width:600px;text-align:right;">2,970</div>
<div class="t" style="top:996px;font-size:10px;left:-6.40px;width:600px;text-align:right;">0.195</div>
<div class="t" style="top:996px;font-size:10px;left:53.90px;width:600px;text-align:right;">249</div>
<div class="t" style="top:1013px;font-size:10px;left:-517.00px;width:600px;text-align:right;">120</div>
<div class="t" style="top:1013px;font-size:10px;letter-spacing:-0.15px;left:-442.00px;width:600px;text-align:right;">37 / 2.03</div>
<div class="t" style="top:1013px;font-size:10px;left:-386.50px;width:600px;text-align:right;">14.21</div>
<div class="t" style="top:1013px;font-size:10px;left:-33.00px;width:600px;text-align:center;">1.2</div>
<div class="t" style="top:1013px;font-size:10px;left:-246.00px;width:600px;text-align:right;">38.1</div>
<div class="t" style="top:1013px;font-size:10px;left:-181.50px;width:600px;text-align:right;">43.5</div>
<div class="t" style="top:1013px;font-size:10px;left:161.80px;width:600px;text-align:center;">2.2</div>
<div class="t" style="top:1013px;font-size:10px;letter-spacing:-0.1px;left:-70.10px;width:600px;text-align:right;">3,630</div>
<div class="t" style="top:1013px;font-size:10px;left:-6.40px;width:600px;text-align:right;">0.154</div>
<div class="t" style="top:1013px;font-size:10px;left:53.90px;width:600px;text-align:right;">288</div>
<div class="t" style="top:1030px;font-size:10px;left:-517.00px;width:600px;text-align:right;">150</div>
<div class="t" style="top:1030px;font-size:10px;letter-spacing:-0.15px;left:-442.00px;width:600px;text-align:right;">37 / 2.25</div>
<div class="t" style="top:1030px;font-size:10px;left:-386.50px;width:600px;text-align:right;">15.75</div>
<div class="t" style="top:1030px;font-size:10px;left:-33.00px;width:600px;text-align:center;">1.4</div>
<div class="t" style="top:1030px;font-size:10px;left:-246.00px;width:600px;text-align:right;">42.5</div>
<div class="t" style="top:1030px;font-size:10px;left:-181.50px;width:600px;text-align:right;">48.1</div>
<div class="t" style="top:1030px;font-size:10px;left:161.80px;width:600px;text-align:center;">2.4</div>
<div class="t" style="top:1030px;font-size:10px;letter-spacing:-0.1px;left:-70.10px;width:600px;text-align:right;">4,410</div>
<div class="t" style="top:1030px;font-size:10px;left:-6.40px;width:600px;text-align:right;">0.126</div>
<div class="t" style="top:1030px;font-size:10px;left:53.90px;width:600px;text-align:right;">331</div>
<div class="t" style="top:1048px;font-size:10px;left:-517.00px;width:600px;text-align:right;">185</div>
<div class="t" style="top:1048px;font-size:10px;letter-spacing:-0.15px;left:-442.00px;width:600px;text-align:right;">37 / 2.52</div>
<div class="t" style="top:1048px;font-size:10px;left:-386.50px;width:600px;text-align:right;">17.64</div>
<div class="t" style="top:1048px;font-size:10px;left:-33.00px;width:600px;text-align:center;">1.6</div>
<div class="t" style="top:1048px;font-size:10px;left:-246.00px;width:600px;text-align:right;">47.3</div>
<div class="t" style="top:1048px;font-size:10px;left:-181.50px;width:600px;text-align:right;">53.1</div>
<div class="t" style="top:1048px;font-size:10px;left:161.80px;width:600px;text-align:center;">2.6</div>
<div class="t" style="top:1048px;font-size:10px;letter-spacing:-0.1px;left:-70.10px;width:600px;text-align:right;">5,410</div>
<div class="t" style="top:1048px;font-size:10px;left:-6.40px;width:600px;text-align:right;">0.100</div>
<div class="t" style="top:1048px;font-size:10px;left:53.90px;width:600px;text-align:right;">377</div>
<div class="t" style="top:1065px;font-size:10px;left:-517.00px;width:600px;text-align:right;">240</div>
<div class="t" style="top:1065px;font-size:10px;letter-spacing:-0.15px;left:-442.00px;width:600px;text-align:right;">61 / 2.25</div>
<div class="t" style="top:1065px;font-size:10px;left:-386.50px;width:600px;text-align:right;">20.25</div>
<div class="t" style="top:1065px;font-size:10px;left:-33.00px;width:600px;text-align:center;">1.7</div>
<div class="t" style="top:1065px;font-size:10px;left:-246.00px;width:600px;text-align:right;">53.5</div>
<div class="t" style="top:1065px;font-size:10px;left:-181.50px;width:600px;text-align:right;">59.7</div>
<div class="t" style="top:1065px;font-size:10px;left:161.80px;width:600px;text-align:center;">2.9</div>
<div class="t" style="top:1065px;font-size:10px;letter-spacing:-0.1px;left:-70.10px;width:600px;text-align:right;">6,920</div>
<div class="t" style="top:1065px;font-size:10px;left:-6.40px;width:600px;text-align:right;">0.0762</div>
<div class="t" style="top:1065px;font-size:10px;left:53.90px;width:600px;text-align:right;">444</div>
<div class="t" style="top:1082px;font-size:10px;left:-517.00px;width:600px;text-align:right;">300</div>
<div class="t" style="top:1082px;font-size:10px;letter-spacing:-0.15px;left:-442.00px;width:600px;text-align:right;">61 / 2.52</div>
<div class="t" style="top:1082px;font-size:10px;left:-386.50px;width:600px;text-align:right;">22.68</div>
<div class="t" style="top:1082px;font-size:10px;left:-33.00px;width:600px;text-align:center;">1.8</div>
<div class="t" style="top:1082px;font-size:10px;left:-246.00px;width:600px;text-align:right;">59.1</div>
<div class="t" style="top:1082px;font-size:10px;left:-181.50px;width:600px;text-align:right;">65.5</div>
<div class="t" style="top:1082px;font-size:10px;left:161.80px;width:600px;text-align:center;">3.1</div>
<div class="t" style="top:1082px;font-size:10px;letter-spacing:-0.1px;left:-70.10px;width:600px;text-align:right;">8,470</div>
<div class="t" style="top:1082px;font-size:10px;left:-6.40px;width:600px;text-align:right;">0.0607</div>
<div class="t" style="top:1082px;font-size:10px;left:53.90px;width:600px;text-align:right;">511</div>
<div class="t" style="top:953px;font-size:10px;left:-273.20px;width:600px;text-align:center;">2</div>
<div class="b" style="left:2.00px;top:1095.10px;width:672.00px;height:1.00px;background:#1a1a1a"></div>
<div class="b" style="left:44.90px;top:1131.38px;width:629.10px;height:16.89px;background:#d1dce2"></div>
<div class="b" style="left:44.90px;top:1217.83px;width:629.10px;height:16.89px;background:#d1dce2"></div>
<div class="b" style="left:44.90px;top:1304.28px;width:629.10px;height:16.89px;background:#d1dce2"></div>
<div class="t" style="top:1100px;font-size:10px;left:-517.00px;width:600px;text-align:right;">1.5</div>
<div class="t" style="top:1100px;font-size:10px;letter-spacing:-0.15px;left:-442.00px;width:600px;text-align:right;">7 / 0.53</div>
<div class="t" style="top:1100px;font-size:10px;left:-386.50px;width:600px;text-align:right;">1.59</div>
<div class="t" style="top:1100px;font-size:10px;left:-33.00px;width:600px;text-align:center;">0.7</div>
<div class="t" style="top:1100px;font-size:10px;left:-246.00px;width:600px;text-align:right;">9.4</div>
<div class="t" style="top:1100px;font-size:10px;left:-181.50px;width:600px;text-align:right;">13.1</div>
<div class="t" style="top:1100px;font-size:10px;left:161.80px;width:600px;text-align:center;">1.0</div>
<div class="t" style="top:1100px;font-size:10px;letter-spacing:-0.1px;left:-70.10px;width:600px;text-align:right;">250</div>
<div class="t" style="top:1100px;font-size:10px;left:-6.40px;width:600px;text-align:right;">12.2</div>
<div class="t" style="top:1100px;font-size:10px;left:53.90px;width:600px;text-align:right;">16</div>
<div class="t" style="top:1117px;font-size:10px;left:-517.00px;width:600px;text-align:right;">2.5</div>
<div class="t" style="top:1117px;font-size:10px;letter-spacing:-0.15px;left:-442.00px;width:600px;text-align:right;">7 / 0.67</div>
<div class="t" style="top:1117px;font-size:10px;left:-386.50px;width:600px;text-align:right;">2.01</div>
<div class="t" style="top:1117px;font-size:10px;left:-33.00px;width:600px;text-align:center;">0.7</div>
<div class="t" style="top:1117px;font-size:10px;left:-246.00px;width:600px;text-align:right;">10.3</div>
<div class="t" style="top:1117px;font-size:10px;left:-181.50px;width:600px;text-align:right;">14.0</div>
<div class="t" style="top:1117px;font-size:10px;left:161.80px;width:600px;text-align:center;">1.1</div>
<div class="t" style="top:1117px;font-size:10px;letter-spacing:-0.1px;left:-70.10px;width:600px;text-align:right;">290</div>
<div class="t" style="top:1117px;font-size:10px;left:-6.40px;width:600px;text-align:right;">7.56</div>
<div class="t" style="top:1117px;font-size:10px;left:53.90px;width:600px;text-align:right;">21</div>
<div class="t" style="top:1135px;font-size:10px;left:-517.00px;width:600px;text-align:right;">4</div>
<div class="t" style="top:1135px;font-size:10px;letter-spacing:-0.15px;left:-442.00px;width:600px;text-align:right;">7 / 0.85</div>
<div class="t" style="top:1135px;font-size:10px;left:-386.50px;width:600px;text-align:right;">2.55</div>
<div class="t" style="top:1135px;font-size:10px;left:-33.00px;width:600px;text-align:center;">0.7</div>
<div class="t" style="top:1135px;font-size:10px;left:-246.00px;width:600px;text-align:right;">11.8</div>
<div class="t" style="top:1135px;font-size:10px;left:-181.50px;width:600px;text-align:right;">15.5</div>
<div class="t" style="top:1135px;font-size:10px;left:161.80px;width:600px;text-align:center;">1.1</div>
<div class="t" style="top:1135px;font-size:10px;letter-spacing:-0.1px;left:-70.10px;width:600px;text-align:right;">370</div>
<div class="t" style="top:1135px;font-size:10px;left:-6.40px;width:600px;text-align:right;">4.70</div>
<div class="t" style="top:1135px;font-size:10px;left:53.90px;width:600px;text-align:right;">28</div>
<div class="t" style="top:1152px;font-size:10px;left:-517.00px;width:600px;text-align:right;">6</div>
<div class="t" style="top:1152px;font-size:10px;letter-spacing:-0.15px;left:-442.00px;width:600px;text-align:right;">7 / 1.04</div>
<div class="t" style="top:1152px;font-size:10px;left:-386.50px;width:600px;text-align:right;">3.12</div>
<div class="t" style="top:1152px;font-size:10px;left:-33.00px;width:600px;text-align:center;">0.7</div>
<div class="t" style="top:1152px;font-size:10px;left:-246.00px;width:600px;text-align:right;">12.8</div>
<div class="t" style="top:1152px;font-size:10px;left:-181.50px;width:600px;text-align:right;">16.5</div>
<div class="t" style="top:1152px;font-size:10px;left:161.80px;width:600px;text-align:center;">1.2</div>
<div class="t" style="top:1152px;font-size:10px;letter-spacing:-0.1px;left:-70.10px;width:600px;text-align:right;">450</div>
<div class="t" style="top:1152px;font-size:10px;left:-6.40px;width:600px;text-align:right;">3.11</div>
<div class="t" style="top:1152px;font-size:10px;left:53.90px;width:600px;text-align:right;">36</div>
<div class="t" style="top:1169px;font-size:10px;left:-517.00px;width:600px;text-align:right;">10</div>
<div class="t" style="top:1169px;font-size:10px;letter-spacing:-0.15px;left:-442.00px;width:600px;text-align:right;">7 / 1.35</div>
<div class="t" style="top:1169px;font-size:10px;left:-386.50px;width:600px;text-align:right;">4.05</div>
<div class="t" style="top:1169px;font-size:10px;left:-33.00px;width:600px;text-align:center;">0.7</div>
<div class="t" style="top:1169px;font-size:10px;left:-246.00px;width:600px;text-align:right;">15.2</div>
<div class="t" style="top:1169px;font-size:10px;left:-181.50px;width:600px;text-align:right;">18.9</div>
<div class="t" style="top:1169px;font-size:10px;left:161.80px;width:600px;text-align:center;">1.3</div>
<div class="t" style="top:1169px;font-size:10px;letter-spacing:-0.1px;left:-70.10px;width:600px;text-align:right;">630</div>
<div class="t" style="top:1169px;font-size:10px;left:-6.40px;width:600px;text-align:right;">1.84</div>
<div class="t" style="top:1169px;font-size:10px;left:53.90px;width:600px;text-align:right;">50</div>
<div class="t" style="top:1187px;font-size:10px;left:-517.00px;width:600px;text-align:right;">16</div>
<div class="t" style="top:1187px;font-size:10px;letter-spacing:-0.15px;left:-442.00px;width:600px;text-align:right;">7 / 1.70</div>
<div class="t" style="top:1187px;font-size:10px;left:-386.50px;width:600px;text-align:right;">5.10</div>
<div class="t" style="top:1187px;font-size:10px;left:-33.00px;width:600px;text-align:center;">0.7</div>
<div class="t" style="top:1187px;font-size:10px;left:-246.00px;width:600px;text-align:right;">17.5</div>
<div class="t" style="top:1187px;font-size:10px;left:-181.50px;width:600px;text-align:right;">21.4</div>
<div class="t" style="top:1187px;font-size:10px;left:161.80px;width:600px;text-align:center;">1.4</div>
<div class="t" style="top:1187px;font-size:10px;letter-spacing:-0.1px;left:-70.10px;width:600px;text-align:right;">870</div>
<div class="t" style="top:1187px;font-size:10px;left:-6.40px;width:600px;text-align:right;">1.16</div>
<div class="t" style="top:1187px;font-size:10px;left:53.90px;width:600px;text-align:right;">67</div>
<div class="t" style="top:1204px;font-size:10px;left:-517.00px;width:600px;text-align:right;">25</div>
<div class="t" style="top:1204px;font-size:10px;letter-spacing:-0.15px;left:-442.00px;width:600px;text-align:right;">7 / 2.14</div>
<div class="t" style="top:1204px;font-size:10px;left:-386.50px;width:600px;text-align:right;">6.42</div>
<div class="t" style="top:1204px;font-size:10px;left:-33.00px;width:600px;text-align:center;">0.9</div>
<div class="t" style="top:1204px;font-size:10px;left:-246.00px;width:600px;text-align:right;">21.4</div>
<div class="t" style="top:1204px;font-size:10px;left:-181.50px;width:600px;text-align:right;">25.5</div>
<div class="t" style="top:1204px;font-size:10px;left:161.80px;width:600px;text-align:center;">1.5</div>
<div class="t" style="top:1204px;font-size:10px;letter-spacing:-0.1px;left:-70.10px;width:600px;text-align:right;">1,260</div>
<div class="t" style="top:1204px;font-size:10px;left:-6.40px;width:600px;text-align:right;">0.734</div>
<div class="t" style="top:1204px;font-size:10px;left:53.90px;width:600px;text-align:right;">89</div>
<div class="t" style="top:1221px;font-size:10px;left:-517.00px;width:600px;text-align:right;">35</div>
<div class="t" style="top:1221px;font-size:10px;letter-spacing:-0.15px;left:-442.00px;width:600px;text-align:right;">7 / 2.52</div>
<div class="t" style="top:1221px;font-size:10px;left:-386.50px;width:600px;text-align:right;">7.56</div>
<div class="t" style="top:1221px;font-size:10px;left:-33.00px;width:600px;text-align:center;">0.9</div>
<div class="t" style="top:1221px;font-size:10px;left:-246.00px;width:600px;text-align:right;">24.2</div>
<div class="t" style="top:1221px;font-size:10px;left:-181.50px;width:600px;text-align:right;">28.3</div>
<div class="t" style="top:1221px;font-size:10px;left:161.80px;width:600px;text-align:center;">1.6</div>
<div class="t" style="top:1221px;font-size:10px;letter-spacing:-0.1px;left:-70.10px;width:600px;text-align:right;">1,630</div>
<div class="t" style="top:1221px;font-size:10px;left:-6.40px;width:600px;text-align:right;">0.529</div>
<div class="t" style="top:1221px;font-size:10px;left:53.90px;width:600px;text-align:right;">110</div>
<div class="t" style="top:1238px;font-size:10px;left:-517.00px;width:600px;text-align:right;">50</div>
<div class="t" style="top:1238px;font-size:10px;letter-spacing:-0.15px;left:-442.00px;width:600px;text-align:right;">19 / 1.78</div>
<div class="t" style="top:1238px;font-size:10px;left:-386.50px;width:600px;text-align:right;">8.90</div>
<div class="t" style="top:1238px;font-size:10px;left:-33.00px;width:600px;text-align:center;">1.0</div>
<div class="t" style="top:1238px;font-size:10px;left:-246.00px;width:600px;text-align:right;">27.8</div>
<div class="t" style="top:1238px;font-size:10px;left:-181.50px;width:600px;text-align:right;">32.1</div>
<div class="t" style="top:1238px;font-size:10px;left:161.80px;width:600px;text-align:center;">1.8</div>
<div class="t" style="top:1238px;font-size:10px;letter-spacing:-0.1px;left:-70.10px;width:600px;text-align:right;">2,120</div>
<div class="t" style="top:1238px;font-size:10px;left:-6.40px;width:600px;text-align:right;">0.391</div>
<div class="t" style="top:1238px;font-size:10px;left:53.90px;width:600px;text-align:right;">137</div>
<div class="t" style="top:1256px;font-size:10px;left:-517.00px;width:600px;text-align:right;">70</div>
<div class="t" style="top:1256px;font-size:10px;letter-spacing:-0.15px;left:-442.00px;width:600px;text-align:right;">19 / 2.14</div>
<div class="t" style="top:1256px;font-size:10px;left:-386.50px;width:600px;text-align:right;">10.70</div>
<div class="t" style="top:1256px;font-size:10px;left:-33.00px;width:600px;text-align:center;">1.1</div>
<div class="t" style="top:1256px;font-size:10px;left:-246.00px;width:600px;text-align:right;">32.3</div>
<div class="t" style="top:1256px;font-size:10px;left:-181.50px;width:600px;text-align:right;">37.5</div>
<div class="t" style="top:1256px;font-size:10px;left:161.80px;width:600px;text-align:center;">2.0</div>
<div class="t" style="top:1256px;font-size:10px;letter-spacing:-0.1px;left:-70.10px;width:600px;text-align:right;">2,990</div>
<div class="t" style="top:1256px;font-size:10px;left:-6.40px;width:600px;text-align:right;">0.270</div>
<div class="t" style="top:1256px;font-size:10px;left:53.90px;width:600px;text-align:right;">169</div>
<div class="t" style="top:1273px;font-size:10px;left:-517.00px;width:600px;text-align:right;">95</div>
<div class="t" style="top:1273px;font-size:10px;letter-spacing:-0.15px;left:-442.00px;width:600px;text-align:right;">19 / 2.52</div>
<div class="t" style="top:1273px;font-size:10px;left:-386.50px;width:600px;text-align:right;">12.60</div>
<div class="t" style="top:1273px;font-size:10px;left:-33.00px;width:600px;text-align:center;">1.1</div>
<div class="t" style="top:1273px;font-size:10px;left:-246.00px;width:600px;text-align:right;">36.8</div>
<div class="t" style="top:1273px;font-size:10px;left:-181.50px;width:600px;text-align:right;">42.2</div>
<div class="t" style="top:1273px;font-size:10px;left:161.80px;width:600px;text-align:center;">2.2</div>
<div class="t" style="top:1273px;font-size:10px;letter-spacing:-0.1px;left:-70.10px;width:600px;text-align:right;">3,950</div>
<div class="t" style="top:1273px;font-size:10px;left:-6.40px;width:600px;text-align:right;">0.195</div>
<div class="t" style="top:1273px;font-size:10px;left:53.90px;width:600px;text-align:right;">205</div>
<div class="t" style="top:1290px;font-size:10px;left:-517.00px;width:600px;text-align:right;">120</div>
<div class="t" style="top:1290px;font-size:10px;letter-spacing:-0.15px;left:-442.00px;width:600px;text-align:right;">37 / 2.03</div>
<div class="t" style="top:1290px;font-size:10px;left:-386.50px;width:600px;text-align:right;">14.21</div>
<div class="t" style="top:1290px;font-size:10px;left:-33.00px;width:600px;text-align:center;">1.2</div>
<div class="t" style="top:1290px;font-size:10px;left:-246.00px;width:600px;text-align:right;">41.1</div>
<div class="t" style="top:1290px;font-size:10px;left:-181.50px;width:600px;text-align:right;">46.7</div>
<div class="t" style="top:1290px;font-size:10px;left:161.80px;width:600px;text-align:center;">2.4</div>
<div class="t" style="top:1290px;font-size:10px;letter-spacing:-0.1px;left:-70.10px;width:600px;text-align:right;">4,880</div>
<div class="t" style="top:1290px;font-size:10px;left:-6.40px;width:600px;text-align:right;">0.154</div>
<div class="t" style="top:1290px;font-size:10px;left:53.90px;width:600px;text-align:right;">237</div>
<div class="t" style="top:1308px;font-size:10px;left:-517.00px;width:600px;text-align:right;">150</div>
<div class="t" style="top:1308px;font-size:10px;letter-spacing:-0.15px;left:-442.00px;width:600px;text-align:right;">37 / 2.25</div>
<div class="t" style="top:1308px;font-size:10px;left:-386.50px;width:600px;text-align:right;">15.75</div>
<div class="t" style="top:1308px;font-size:10px;left:-33.00px;width:600px;text-align:center;">1.4</div>
<div class="t" style="top:1308px;font-size:10px;left:-246.00px;width:600px;text-align:right;">45.6</div>
<div class="t" style="top:1308px;font-size:10px;left:-181.50px;width:600px;text-align:right;">51.4</div>
<div class="t" style="top:1308px;font-size:10px;left:161.80px;width:600px;text-align:center;">2.6</div>
<div class="t" style="top:1308px;font-size:10px;letter-spacing:-0.1px;left:-70.10px;width:600px;text-align:right;">5,910</div>
<div class="t" style="top:1308px;font-size:10px;left:-6.40px;width:600px;text-align:right;">0.126</div>
<div class="t" style="top:1308px;font-size:10px;left:53.90px;width:600px;text-align:right;">272</div>
<div class="t" style="top:1325px;font-size:10px;left:-517.00px;width:600px;text-align:right;">185</div>
<div class="t" style="top:1325px;font-size:10px;letter-spacing:-0.15px;left:-442.00px;width:600px;text-align:right;">37 / 2.52</div>
<div class="t" style="top:1325px;font-size:10px;left:-386.50px;width:600px;text-align:right;">17.64</div>
<div class="t" style="top:1325px;font-size:10px;left:-33.00px;width:600px;text-align:center;">1.6</div>
<div class="t" style="top:1325px;font-size:10px;left:-246.00px;width:600px;text-align:right;">50.8</div>
<div class="t" style="top:1325px;font-size:10px;left:-181.50px;width:600px;text-align:right;">56.8</div>
<div class="t" style="top:1325px;font-size:10px;left:161.80px;width:600px;text-align:center;">2.8</div>
<div class="t" style="top:1325px;font-size:10px;letter-spacing:-0.1px;left:-70.10px;width:600px;text-align:right;">7,280</div>
<div class="t" style="top:1325px;font-size:10px;left:-6.40px;width:600px;text-align:right;">0.100</div>
<div class="t" style="top:1325px;font-size:10px;left:53.90px;width:600px;text-align:right;">311</div>
<div class="t" style="top:1342px;font-size:10px;left:-517.00px;width:600px;text-align:right;">240</div>
<div class="t" style="top:1342px;font-size:10px;letter-spacing:-0.15px;left:-442.00px;width:600px;text-align:right;">61 / 2.25</div>
<div class="t" style="top:1342px;font-size:10px;left:-386.50px;width:600px;text-align:right;">20.25</div>
<div class="t" style="top:1342px;font-size:10px;left:-33.00px;width:600px;text-align:center;">1.7</div>
<div class="t" style="top:1342px;font-size:10px;left:-246.00px;width:600px;text-align:right;">57.6</div>
<div class="t" style="top:1342px;font-size:10px;left:-181.50px;width:600px;text-align:right;">64.0</div>
<div class="t" style="top:1342px;font-size:10px;left:161.80px;width:600px;text-align:center;">3.1</div>
<div class="t" style="top:1342px;font-size:10px;letter-spacing:-0.1px;left:-70.10px;width:600px;text-align:right;">9,420</div>
<div class="t" style="top:1342px;font-size:10px;left:-6.40px;width:600px;text-align:right;">0.0762</div>
<div class="t" style="top:1342px;font-size:10px;left:53.90px;width:600px;text-align:right;">365</div>
<div class="t" style="top:1360px;font-size:10px;left:-517.00px;width:600px;text-align:right;">300</div>
<div class="t" style="top:1360px;font-size:10px;letter-spacing:-0.15px;left:-442.00px;width:600px;text-align:right;">61 / 2.52</div>
<div class="t" style="top:1360px;font-size:10px;left:-386.50px;width:600px;text-align:right;">22.68</div>
<div class="t" style="top:1360px;font-size:10px;left:-33.00px;width:600px;text-align:center;">1.8</div>
<div class="t" style="top:1360px;font-size:10px;left:-246.00px;width:600px;text-align:right;">63.6</div>
<div class="t" style="top:1360px;font-size:10px;left:-181.50px;width:600px;text-align:right;">70.2</div>
<div class="t" style="top:1360px;font-size:10px;left:161.80px;width:600px;text-align:center;">3.3</div>
<div class="t" style="top:1360px;font-size:10px;letter-spacing:-0.1px;left:-70.10px;width:600px;text-align:right;">11,560</div>
<div class="t" style="top:1360px;font-size:10px;left:-6.40px;width:600px;text-align:right;">0.0607</div>
<div class="t" style="top:1360px;font-size:10px;left:53.90px;width:600px;text-align:right;">421</div>
<div class="t" style="top:1231px;font-size:10px;left:-273.20px;width:600px;text-align:center;">3</div>
<div class="b" style="left:2.00px;top:1377.00px;width:672.00px;height:1.00px;background:#1a1a1a"></div>
<svg class="b" style="left:0;top:1387.50px" width="22" height="20"><line x1="2.2" y1="1" x2="17.7" y2="16.5" stroke="#c24d5b" stroke-width="1" stroke-opacity="0.8"/></svg>
<div class="t" style="left:22.2px;top:1386.47px;font-size:20px;color:#c24d5b;letter-spacing:-0.7px"><span style="font-weight:700;letter-spacing:-0.7px">Cable Type</span><span style="font-weight:400;letter-spacing:-0.7px"> 0.6/1kV TICI (0.6/1kV TIOI)</span></div>
<div class="b" style="left:2.00px;top:1408.00px;width:672.00px;height:3.00px;background:#c24d5b"></div>
<div class="b" style="left:3.00px;top:1419.20px;width:671.00px;height:69.40px;background:#c14e5b"></div>
<div class="b" style="left:48.00px;top:1419.20px;width:1.00px;height:69.40px;background:#fff"></div>
<div class="b" style="left:108.00px;top:1436.40px;width:1.00px;height:52.20px;background:#fff"></div>
<div class="b" style="left:180.00px;top:1436.40px;width:1.00px;height:52.20px;background:#fff"></div>
<div class="b" style="left:226.00px;top:1419.20px;width:1.00px;height:69.40px;background:#fff"></div>
<div class="b" style="left:297.00px;top:1419.20px;width:1.00px;height:69.40px;background:#fff"></div>
<div class="b" style="left:356.00px;top:1419.20px;width:1.00px;height:69.40px;background:#fff"></div>
<div class="b" style="left:414.00px;top:1436.40px;width:1.00px;height:52.20px;background:#fff"></div>
<div class="b" style="left:472.00px;top:1419.20px;width:1.00px;height:69.40px;background:#fff"></div>
<div class="b" style="left:533.00px;top:1419.20px;width:1.00px;height:69.40px;background:#fff"></div>
<div class="b" style="left:611.00px;top:1419.20px;width:1.00px;height:69.40px;background:#fff"></div>
<div class="b" style="left:48.30px;top:1436.00px;width:178.20px;height:1.00px;background:#fff"></div>
<div class="b" style="left:356.20px;top:1436.00px;width:116.30px;height:1.00px;background:#fff"></div>
<div class="b" style="left:3.00px;top:1471.00px;width:671.00px;height:1.00px;background:#fff"></div>
<div class="t h" style="top:1422px;font-size:12px;color:#fff;letter-spacing:-0.15px;left:-274.80px;width:600px;text-align:center;">No. of</div>
<div class="t h" style="top:1440px;font-size:12px;color:#fff;letter-spacing:-0.15px;left:-274.80px;width:600px;text-align:center;">Cores</div>
<div class="t h" style="top:1422px;font-size:12px;color:#fff;letter-spacing:-0.15px;left:-163.00px;width:600px;text-align:center;">Conductor</div>
<div class="t h" style="top:1439px;font-size:12px;color:#fff;letter-spacing:-0.15px;left:-222.80px;width:600px;text-align:center;">Nominal</div>
<div class="t h" style="top:1451px;font-size:12px;color:#fff;letter-spacing:-0.15px;left:-222.80px;width:600px;text-align:center;">Area</div>
<div class="t h" style="top:1439px;font-size:12px;color:#fff;letter-spacing:-0.15px;left:-160.80px;width:600px;text-align:center;">Strand</div>
<div class="t h" style="top:1439px;font-size:12px;color:#fff;letter-spacing:-0.15px;left:-98.30px;width:600px;text-align:center;">Dia.</div>
<div class="t h" style="top:1422px;font-size:12px;color:#fff;letter-spacing:-0.15px;left:-38.60px;width:600px;text-align:center;">Thickness</div>
<div class="t h" style="top:1439px;font-size:12px;color:#fff;letter-spacing:-0.15px;left:-38.60px;width:600px;text-align:center;">of</div>
<div class="t h" style="top:1456px;font-size:12px;color:#fff;letter-spacing:-0.15px;left:-38.60px;width:600px;text-align:center;">Insulation</div>
<div class="t h" style="top:1422px;font-size:12px;color:#fff;letter-spacing:-0.15px;left:28.60px;width:600px;text-align:center;">Nominal</div>
<div class="t h" style="top:1439px;font-size:12px;color:#fff;letter-spacing:-0.15px;left:28.60px;width:600px;text-align:center;">Dia. Inner</div>
<div class="t h" style="top:1456px;font-size:12px;color:#fff;letter-spacing:-0.15px;left:28.60px;width:600px;text-align:center;">Sheath</div>
<div class="t h" style="top:1423px;font-size:12px;color:#fff;letter-spacing:-0.15px;left:114.30px;width:600px;text-align:center;">Overall Diameter</div>
<div class="t h" style="top:1440px;font-size:12px;color:#fff;letter-spacing:-0.15px;left:87.60px;width:600px;text-align:center;">Nominal</div>
<div class="t h" style="top:1440px;font-size:12px;color:#fff;letter-spacing:-0.15px;left:143.30px;width:600px;text-align:center;">Tolerance</div>
<div class="t h" style="top:1422px;font-size:12px;color:#fff;letter-spacing:-0.15px;left:201.60px;width:600px;text-align:center;">Cable</div>
<div class="t h" style="top:1440px;font-size:12px;color:#fff;letter-spacing:-0.15px;left:201.60px;width:600px;text-align:center;">Weight</div>
<div class="t h" style="top:1422px;font-size:12px;color:#fff;letter-spacing:-0.15px;left:272.30px;width:600px;text-align:center;">Conductor</div>
<div class="t h" style="top:1438px;font-size:12px;color:#fff;letter-spacing:-0.15px;left:272.30px;width:600px;text-align:center;">Resistance</div>
<div class="t h" style="top:1454px;font-size:12px;color:#fff;letter-spacing:-0.45px;left:272.30px;width:600px;text-align:center;">(at 20°C)(max.)</div>
<div class="t h" style="top:1422px;font-size:12px;color:#fff;letter-spacing:-0.15px;left:342.80px;width:600px;text-align:center;">Current</div>
<div class="t h" style="top:1438px;font-size:12px;color:#fff;letter-spacing:-0.15px;left:342.80px;width:600px;text-align:center;">Ratings</div>
<div class="t h" style="top:1454px;font-size:12px;color:#fff;letter-spacing:-0.45px;left:342.80px;width:600px;text-align:center;">(at 45°C)</div>
<div class="t h" style="top:1474px;font-size:12px;color:#fff;letter-spacing:-0.15px;left:-274.80px;width:600px;text-align:center;">No.</div>
<div class="t h" style="top:1474px;font-size:12px;color:#fff;letter-spacing:-0.15px;left:-222.80px;width:600px;text-align:center;">mm²</div>
<div class="t h" style="top:1474px;font-size:12px;color:#fff;letter-spacing:-0.15px;left:-160.20px;width:600px;text-align:center;">No./mm</div>
<div class="t h" style="top:1474px;font-size:12px;color:#fff;letter-spacing:-0.15px;left:-98.00px;width:600px;text-align:center;">mm</div>
<div class="t h" style="top:1474px;font-size:12px;color:#fff;letter-spacing:-0.15px;left:-38.00px;width:600px;text-align:center;">mm</div>
<div class="t h" style="top:1474px;font-size:12px;color:#fff;letter-spacing:-0.15px;left:28.10px;width:600px;text-align:center;">mm</div>
<div class="t h" style="top:1474px;font-size:12px;color:#fff;letter-spacing:-0.15px;left:87.60px;width:600px;text-align:center;">mm</div>
<div class="t h" style="top:1474px;font-size:12px;color:#fff;letter-spacing:-0.15px;left:144.00px;width:600px;text-align:center;"><span style="margin-right:1.5px">±</span>mm</div>
<div class="t h" style="top:1474px;font-size:12px;color:#fff;letter-spacing:-0.15px;left:201.60px;width:600px;text-align:center;">kg/km</div>
<div class="t h" style="top:1474px;font-size:12px;color:#fff;letter-spacing:-0.15px;left:272.90px;width:600px;text-align:center;"><i style="margin-right:1px">Ω</i>/km</div>
<div class="t h" style="top:1474px;font-size:12px;color:#fff;letter-spacing:-0.15px;left:343.50px;width:600px;text-align:center;">A</div>
<div class="b" style="left:48.10px;top:1558.16px;width:625.90px;height:16.89px;background:#d1dce2"></div>
<div class="b" style="left:48.10px;top:1644.61px;width:625.90px;height:16.89px;background:#d1dce2"></div>
<div class="b" style="left:48.10px;top:1731.06px;width:625.90px;height:16.89px;background:#d1dce2"></div>
<div class="t" style="top:1492px;font-size:10px;left:-517.00px;width:600px;text-align:right;">1.5</div>
<div class="t" style="top:1492px;font-size:10px;letter-spacing:-0.15px;left:-445.00px;width:600px;text-align:right;">7 / 0.53</div>
<div class="t" style="top:1492px;font-size:10px;left:-387.20px;width:600px;text-align:right;">1.59</div>
<div class="t" style="top:1492px;font-size:10px;left:-38.50px;width:600px;text-align:center;">0.7</div>
<div class="t" style="top:1492px;font-size:10px;left:-264.00px;width:600px;text-align:right;">10.2</div>
<div class="t" style="top:1492px;font-size:10px;left:-204.30px;width:600px;text-align:right;">13.9</div>
<div class="t" style="top:1492px;font-size:10px;left:141.80px;width:600px;text-align:center;">1.1</div>
<div class="t" style="top:1492px;font-size:10px;letter-spacing:-0.1px;left:-89.00px;width:600px;text-align:right;">280</div>
<div class="t" style="top:1492px;font-size:10px;left:-15.20px;width:600px;text-align:right;">12.2</div>
<div class="t" style="top:1492px;font-size:10px;left:49.00px;width:600px;text-align:right;">16</div>
<div class="t" style="top:1510px;font-size:10px;left:-517.00px;width:600px;text-align:right;">2.5</div>
<div class="t" style="top:1510px;font-size:10px;letter-spacing:-0.15px;left:-445.00px;width:600px;text-align:right;">7 / 0.67</div>
<div class="t" style="top:1510px;font-size:10px;left:-387.20px;width:600px;text-align:right;">2.01</div>
<div class="t" style="top:1510px;font-size:10px;left:-38.50px;width:600px;text-align:center;">0.7</div>
<div class="t" style="top:1510px;font-size:10px;left:-264.00px;width:600px;text-align:right;">11.4</div>
<div class="t" style="top:1510px;font-size:10px;left:-204.30px;width:600px;text-align:right;">15.1</div>
<div class="t" style="top:1510px;font-size:10px;left:141.80px;width:600px;text-align:center;">1.1</div>
<div class="t" style="top:1510px;font-size:10px;letter-spacing:-0.1px;left:-89.00px;width:600px;text-align:right;">350</div>
<div class="t" style="top:1510px;font-size:10px;left:-15.20px;width:600px;text-align:right;">7.56</div>
<div class="t" style="top:1510px;font-size:10px;left:49.00px;width:600px;text-align:right;">21</div>
<div class="t" style="top:1527px;font-size:10px;left:-517.00px;width:600px;text-align:right;">4</div>
<div class="t" style="top:1527px;font-size:10px;letter-spacing:-0.15px;left:-445.00px;width:600px;text-align:right;">7 / 0.85</div>
<div class="t" style="top:1527px;font-size:10px;left:-387.20px;width:600px;text-align:right;">2.55</div>
<div class="t" style="top:1527px;font-size:10px;left:-38.50px;width:600px;text-align:center;">0.7</div>
<div class="t" style="top:1527px;font-size:10px;left:-264.00px;width:600px;text-align:right;">12.8</div>
<div class="t" style="top:1527px;font-size:10px;left:-204.30px;width:600px;text-align:right;">16.5</div>
<div class="t" style="top:1527px;font-size:10px;left:141.80px;width:600px;text-align:center;">1.2</div>
<div class="t" style="top:1527px;font-size:10px;letter-spacing:-0.1px;left:-89.00px;width:600px;text-align:right;">440</div>
<div class="t" style="top:1527px;font-size:10px;left:-15.20px;width:600px;text-align:right;">4.70</div>
<div class="t" style="top:1527px;font-size:10px;left:49.00px;width:600px;text-align:right;">28</div>
<div class="t" style="top:1544px;font-size:10px;left:-517.00px;width:600px;text-align:right;">6</div>
<div class="t" style="top:1544px;font-size:10px;letter-spacing:-0.15px;left:-445.00px;width:600px;text-align:right;">7 / 1.04</div>
<div class="t" style="top:1544px;font-size:10px;left:-387.20px;width:600px;text-align:right;">3.12</div>
<div class="t" style="top:1544px;font-size:10px;left:-38.50px;width:600px;text-align:center;">0.7</div>
<div class="t" style="top:1544px;font-size:10px;left:-264.00px;width:600px;text-align:right;">14.2</div>
<div class="t" style="top:1544px;font-size:10px;left:-204.30px;width:600px;text-align:right;">17.9</div>
<div class="t" style="top:1544px;font-size:10px;left:141.80px;width:600px;text-align:center;">1.2</div>
<div class="t" style="top:1544px;font-size:10px;letter-spacing:-0.1px;left:-89.00px;width:600px;text-align:right;">550</div>
<div class="t" style="top:1544px;font-size:10px;left:-15.20px;width:600px;text-align:right;">3.11</div>
<div class="t" style="top:1544px;font-size:10px;left:49.00px;width:600px;text-align:right;">36</div>
<div class="t" style="top:1562px;font-size:10px;left:-517.00px;width:600px;text-align:right;">10</div>
<div class="t" style="top:1562px;font-size:10px;letter-spacing:-0.15px;left:-445.00px;width:600px;text-align:right;">7 / 1.35</div>
<div class="t" style="top:1562px;font-size:10px;left:-387.20px;width:600px;text-align:right;">4.05</div>
<div class="t" style="top:1562px;font-size:10px;left:-38.50px;width:600px;text-align:center;">0.7</div>
<div class="t" style="top:1562px;font-size:10px;left:-264.00px;width:600px;text-align:right;">16.9</div>
<div class="t" style="top:1562px;font-size:10px;left:-204.30px;width:600px;text-align:right;">20.8</div>
<div class="t" style="top:1562px;font-size:10px;left:141.80px;width:600px;text-align:center;">1.3</div>
<div class="t" style="top:1562px;font-size:10px;letter-spacing:-0.1px;left:-89.00px;width:600px;text-align:right;">780</div>
<div class="t" style="top:1562px;font-size:10px;left:-15.20px;width:600px;text-align:right;">1.84</div>
<div class="t" style="top:1562px;font-size:10px;left:49.00px;width:600px;text-align:right;">50</div>
<div class="t" style="top:1579px;font-size:10px;left:-517.00px;width:600px;text-align:right;">16</div>
<div class="t" style="top:1579px;font-size:10px;letter-spacing:-0.15px;left:-445.00px;width:600px;text-align:right;">7 / 1.70</div>
<div class="t" style="top:1579px;font-size:10px;left:-387.20px;width:600px;text-align:right;">5.10</div>
<div class="t" style="top:1579px;font-size:10px;left:-38.50px;width:600px;text-align:center;">0.7</div>
<div class="t" style="top:1579px;font-size:10px;left:-264.00px;width:600px;text-align:right;">19.5</div>
<div class="t" style="top:1579px;font-size:10px;left:-204.30px;width:600px;text-align:right;">23.4</div>
<div class="t" style="top:1579px;font-size:10px;left:141.80px;width:600px;text-align:center;">1.4</div>
<div class="t" style="top:1579px;font-size:10px;letter-spacing:-0.1px;left:-89.00px;width:600px;text-align:right;">1,080</div>
<div class="t" style="top:1579px;font-size:10px;left:-15.20px;width:600px;text-align:right;">1.16</div>
<div class="t" style="top:1579px;font-size:10px;left:49.00px;width:600px;text-align:right;">67</div>
<div class="t" style="top:1596px;font-size:10px;left:-517.00px;width:600px;text-align:right;">25</div>
<div class="t" style="top:1596px;font-size:10px;letter-spacing:-0.15px;left:-445.00px;width:600px;text-align:right;">7 / 2.14</div>
<div class="t" style="top:1596px;font-size:10px;left:-387.20px;width:600px;text-align:right;">6.42</div>
<div class="t" style="top:1596px;font-size:10px;left:-38.50px;width:600px;text-align:center;">0.9</div>
<div class="t" style="top:1596px;font-size:10px;left:-264.00px;width:600px;text-align:right;">23.8</div>
<div class="t" style="top:1596px;font-size:10px;left:-204.30px;width:600px;text-align:right;">27.9</div>
<div class="t" style="top:1596px;font-size:10px;left:141.80px;width:600px;text-align:center;">1.6</div>
<div class="t" style="top:1596px;font-size:10px;letter-spacing:-0.1px;left:-89.00px;width:600px;text-align:right;">1,580</div>
<div class="t" style="top:1596px;font-size:10px;left:-15.20px;width:600px;text-align:right;">0.734</div>
<div class="t" style="top:1596px;font-size:10px;left:49.00px;width:600px;text-align:right;">89</div>
<div class="t" style="top:1613px;font-size:10px;left:-517.00px;width:600px;text-align:right;">35</div>
<div class="t" style="top:1613px;font-size:10px;letter-spacing:-0.15px;left:-445.00px;width:600px;text-align:right;">7 / 2.52</div>
<div class="t" style="top:1613px;font-size:10px;left:-387.20px;width:600px;text-align:right;">7.56</div>
<div class="t" style="top:1613px;font-size:10px;left:-38.50px;width:600px;text-align:center;">0.9</div>
<div class="t" style="top:1613px;font-size:10px;left:-264.00px;width:600px;text-align:right;">26.9</div>
<div class="t" style="top:1613px;font-size:10px;left:-204.30px;width:600px;text-align:right;">31.2</div>
<div class="t" style="top:1613px;font-size:10px;left:141.80px;width:600px;text-align:center;">1.7</div>
<div class="t" style="top:1613px;font-size:10px;letter-spacing:-0.1px;left:-89.00px;width:600px;text-align:right;">2,070</div>
<div class="t" style="top:1613px;font-size:10px;left:-15.20px;width:600px;text-align:right;">0.529</div>
<div class="t" style="top:1613px;font-size:10px;left:49.00px;width:600px;text-align:right;">110</div>
<div class="t" style="top:1631px;font-size:10px;left:-517.00px;width:600px;text-align:right;">50</div>
<div class="t" style="top:1631px;font-size:10px;letter-spacing:-0.15px;left:-445.00px;width:600px;text-align:right;">19 / 1.78</div>
<div class="t" style="top:1631px;font-size:10px;left:-387.20px;width:600px;text-align:right;">8.90</div>
<div class="t" style="top:1631px;font-size:10px;left:-38.50px;width:600px;text-align:center;">1.0</div>
<div class="t" style="top:1631px;font-size:10px;left:-264.00px;width:600px;text-align:right;">30.9</div>
<div class="t" style="top:1631px;font-size:10px;left:-204.30px;width:600px;text-align:right;">35.9</div>
<div class="t" style="top:1631px;font-size:10px;left:141.80px;width:600px;text-align:center;">1.9</div>
<div class="t" style="top:1631px;font-size:10px;letter-spacing:-0.1px;left:-89.00px;width:600px;text-align:right;">2,770</div>
<div class="t" style="top:1631px;font-size:10px;left:-15.20px;width:600px;text-align:right;">0.391</div>
<div class="t" style="top:1631px;font-size:10px;left:49.00px;width:600px;text-align:right;">137</div>
<div class="t" style="top:1648px;font-size:10px;left:-517.00px;width:600px;text-align:right;">70</div>
<div class="t" style="top:1648px;font-size:10px;letter-spacing:-0.15px;left:-445.00px;width:600px;text-align:right;">19 / 2.14</div>
<div class="t" style="top:1648px;font-size:10px;left:-387.20px;width:600px;text-align:right;">10.70</div>
<div class="t" style="top:1648px;font-size:10px;left:-38.50px;width:600px;text-align:center;">1.1</div>
<div class="t" style="top:1648px;font-size:10px;left:-264.00px;width:600px;text-align:right;">36.1</div>
<div class="t" style="top:1648px;font-size:10px;left:-204.30px;width:600px;text-align:right;">41.5</div>
<div class="t" style="top:1648px;font-size:10px;left:141.80px;width:600px;text-align:center;">2.2</div>
<div class="t" style="top:1648px;font-size:10px;letter-spacing:-0.1px;left:-89.00px;width:600px;text-align:right;">3,830</div>
<div class="t" style="top:1648px;font-size:10px;left:-15.20px;width:600px;text-align:right;">0.270</div>
<div class="t" style="top:1648px;font-size:10px;left:49.00px;width:600px;text-align:right;">169</div>
<div class="t" style="top:1665px;font-size:10px;left:-517.00px;width:600px;text-align:right;">95</div>
<div class="t" style="top:1665px;font-size:10px;letter-spacing:-0.15px;left:-445.00px;width:600px;text-align:right;">19 / 2.52</div>
<div class="t" style="top:1665px;font-size:10px;left:-387.20px;width:600px;text-align:right;">12.60</div>
<div class="t" style="top:1665px;font-size:10px;left:-38.50px;width:600px;text-align:center;">1.1</div>
<div class="t" style="top:1665px;font-size:10px;left:-264.00px;width:600px;text-align:right;">41.1</div>
<div class="t" style="top:1665px;font-size:10px;left:-204.30px;width:600px;text-align:right;">46.7</div>
<div class="t" style="top:1665px;font-size:10px;left:141.80px;width:600px;text-align:center;">2.4</div>
<div class="t" style="top:1665px;font-size:10px;letter-spacing:-0.1px;left:-89.00px;width:600px;text-align:right;">5,060</div>
<div class="t" style="top:1665px;font-size:10px;left:-15.20px;width:600px;text-align:right;">0.195</div>
<div class="t" style="top:1665px;font-size:10px;left:49.00px;width:600px;text-align:right;">205</div>
<div class="t" style="top:1683px;font-size:10px;left:-517.00px;width:600px;text-align:right;">120</div>
<div class="t" style="top:1683px;font-size:10px;letter-spacing:-0.15px;left:-445.00px;width:600px;text-align:right;">37 / 2.03</div>
<div class="t" style="top:1683px;font-size:10px;left:-387.20px;width:600px;text-align:right;">14.21</div>
<div class="t" style="top:1683px;font-size:10px;left:-38.50px;width:600px;text-align:center;">1.2</div>
<div class="t" style="top:1683px;font-size:10px;left:-264.00px;width:600px;text-align:right;">45.7</div>
<div class="t" style="top:1683px;font-size:10px;left:-204.30px;width:600px;text-align:right;">51.5</div>
<div class="t" style="top:1683px;font-size:10px;left:141.80px;width:600px;text-align:center;">2.6</div>
<div class="t" style="top:1683px;font-size:10px;letter-spacing:-0.1px;left:-89.00px;width:600px;text-align:right;">6,230</div>
<div class="t" style="top:1683px;font-size:10px;left:-15.20px;width:600px;text-align:right;">0.154</div>
<div class="t" style="top:1683px;font-size:10px;left:49.00px;width:600px;text-align:right;">237</div>
<div class="t" style="top:1700px;font-size:10px;left:-517.00px;width:600px;text-align:right;">150</div>
<div class="t" style="top:1700px;font-size:10px;letter-spacing:-0.15px;left:-445.00px;width:600px;text-align:right;">37 / 2.25</div>
<div class="t" style="top:1700px;font-size:10px;left:-387.20px;width:600px;text-align:right;">15.75</div>
<div class="t" style="top:1700px;font-size:10px;left:-38.50px;width:600px;text-align:center;">1.4</div>
<div class="t" style="top:1700px;font-size:10px;left:-264.00px;width:600px;text-align:right;">50.9</div>
<div class="t" style="top:1700px;font-size:10px;left:-204.30px;width:600px;text-align:right;">56.9</div>
<div class="t" style="top:1700px;font-size:10px;left:141.80px;width:600px;text-align:center;">2.8</div>
<div class="t" style="top:1700px;font-size:10px;letter-spacing:-0.1px;left:-89.00px;width:600px;text-align:right;">7,590</div>
<div class="t" style="top:1700px;font-size:10px;left:-15.20px;width:600px;text-align:right;">0.126</div>
<div class="t" style="top:1700px;font-size:10px;left:49.00px;width:600px;text-align:right;">272</div>
<div class="t" style="top:1717px;font-size:10px;left:-517.00px;width:600px;text-align:right;">185</div>
<div class="t" style="top:1717px;font-size:10px;letter-spacing:-0.15px;left:-445.00px;width:600px;text-align:right;">37 / 2.52</div>
<div class="t" style="top:1717px;font-size:10px;left:-387.20px;width:600px;text-align:right;">17.64</div>
<div class="t" style="top:1717px;font-size:10px;left:-38.50px;width:600px;text-align:center;">1.6</div>
<div class="t" style="top:1717px;font-size:10px;left:-264.00px;width:600px;text-align:right;">56.6</div>
<div class="t" style="top:1717px;font-size:10px;left:-204.30px;width:600px;text-align:right;">63.0</div>
<div class="t" style="top:1717px;font-size:10px;left:141.80px;width:600px;text-align:center;">3.0</div>
<div class="t" style="top:1717px;font-size:10px;letter-spacing:-0.1px;left:-89.00px;width:600px;text-align:right;">9,390</div>
<div class="t" style="top:1717px;font-size:10px;left:-15.20px;width:600px;text-align:right;">0.100</div>
<div class="t" style="top:1717px;font-size:10px;left:49.00px;width:600px;text-align:right;">311</div>
<div class="t" style="top:1734px;font-size:10px;left:-517.00px;width:600px;text-align:right;">240</div>
<div class="t" style="top:1734px;font-size:10px;letter-spacing:-0.15px;left:-445.00px;width:600px;text-align:right;">61 / 2.25</div>
<div class="t" style="top:1734px;font-size:10px;left:-387.20px;width:600px;text-align:right;">20.25</div>
<div class="t" style="top:1734px;font-size:10px;left:-38.50px;width:600px;text-align:center;">1.7</div>
<div class="t" style="top:1734px;font-size:10px;left:-264.00px;width:600px;text-align:right;">64.2</div>
<div class="t" style="top:1734px;font-size:10px;left:-204.30px;width:600px;text-align:right;">71.0</div>
<div class="t" style="top:1734px;font-size:10px;left:141.80px;width:600px;text-align:center;">3.3</div>
<div class="t" style="top:1734px;font-size:10px;letter-spacing:-0.1px;left:-89.00px;width:600px;text-align:right;">12,100</div>
<div class="t" style="top:1734px;font-size:10px;left:-15.20px;width:600px;text-align:right;">0.0762</div>
<div class="t" style="top:1734px;font-size:10px;left:49.00px;width:600px;text-align:right;">365</div>
<div class="t" style="top:1752px;font-size:10px;left:-517.00px;width:600px;text-align:right;">300</div>
<div class="t" style="top:1752px;font-size:10px;letter-spacing:-0.15px;left:-445.00px;width:600px;text-align:right;">61 / 2.52</div>
<div class="t" style="top:1752px;font-size:10px;left:-387.20px;width:600px;text-align:right;">22.68</div>
<div class="t" style="top:1752px;font-size:10px;left:-38.50px;width:600px;text-align:center;">1.8</div>
<div class="t" style="top:1752px;font-size:10px;left:-264.00px;width:600px;text-align:right;">71.1</div>
<div class="t" style="top:1752px;font-size:10px;left:-204.30px;width:600px;text-align:right;">78.1</div>
<div class="t" style="top:1752px;font-size:10px;left:141.80px;width:600px;text-align:center;">3.6</div>
<div class="t" style="top:1752px;font-size:10px;letter-spacing:-0.1px;left:-89.00px;width:600px;text-align:right;">14,920</div>
<div class="t" style="top:1752px;font-size:10px;left:-15.20px;width:600px;text-align:right;">0.0607</div>
<div class="t" style="top:1752px;font-size:10px;left:49.00px;width:600px;text-align:right;">421</div>
<div class="t" style="top:1607px;font-size:10px;left:-275.50px;width:600px;text-align:center;">4</div>
<div class="b" style="left:3.00px;top:1764.90px;width:671.00px;height:1.00px;background:#333"></div>
<div class="b" style="left:3.00px;top:1818.47px;width:44.90px;height:16.89px;background:#d1dce2"></div>
<div class="b" style="left:120.70px;top:1818.47px;width:414.80px;height:16.89px;background:#d1dce2"></div>
<div class="b" style="left:612.70px;top:1818.47px;width:61.30px;height:16.89px;background:#d1dce2"></div>
<div class="b" style="left:3.00px;top:1904.92px;width:44.90px;height:16.89px;background:#d1dce2"></div>
<div class="b" style="left:120.70px;top:1904.92px;width:414.80px;height:16.89px;background:#d1dce2"></div>
<div class="b" style="left:612.70px;top:1904.92px;width:61.30px;height:16.89px;background:#d1dce2"></div>
<div class="b" style="left:3.00px;top:1991.37px;width:44.90px;height:16.89px;background:#d1dce2"></div>
<div class="b" style="left:120.70px;top:1991.37px;width:414.80px;height:16.89px;background:#d1dce2"></div>
<div class="b" style="left:612.70px;top:1991.37px;width:61.30px;height:16.89px;background:#d1dce2"></div>
<div class="t" style="top:1770px;font-size:10px;left:-274.00px;width:600px;text-align:center;">5</div>
<div class="t" style="top:1770px;font-size:10px;letter-spacing:-0.15px;left:-445.00px;width:600px;text-align:right;">7 / 0.53</div>
<div class="t" style="top:1770px;font-size:10px;left:-387.20px;width:600px;text-align:right;">1.59</div>
<div class="t" style="top:1770px;font-size:10px;left:-38.50px;width:600px;text-align:center;">0.7</div>
<div class="t" style="top:1770px;font-size:10px;left:-264.00px;width:600px;text-align:right;">11.1</div>
<div class="t" style="top:1770px;font-size:10px;left:-204.30px;width:600px;text-align:right;">14.8</div>
<div class="t" style="top:1770px;font-size:10px;left:141.80px;width:600px;text-align:center;">1.1</div>
<div class="t" style="top:1770px;font-size:10px;letter-spacing:-0.1px;left:-89.00px;width:600px;text-align:right;">320</div>
<div class="t" style="top:1770px;font-size:10px;left:49.00px;width:600px;text-align:right;">12</div>
<div class="t" style="top:1787px;font-size:10px;left:-274.00px;width:600px;text-align:center;">6</div>
<div class="t" style="top:1787px;font-size:10px;letter-spacing:-0.15px;left:-445.00px;width:600px;text-align:right;">7 / 0.53</div>
<div class="t" style="top:1787px;font-size:10px;left:-387.20px;width:600px;text-align:right;">1.59</div>
<div class="t" style="top:1787px;font-size:10px;left:-38.50px;width:600px;text-align:center;">0.7</div>
<div class="t" style="top:1787px;font-size:10px;left:-264.00px;width:600px;text-align:right;">12.3</div>
<div class="t" style="top:1787px;font-size:10px;left:-204.30px;width:600px;text-align:right;">16.0</div>
<div class="t" style="top:1787px;font-size:10px;left:141.80px;width:600px;text-align:center;">1.1</div>
<div class="t" style="top:1787px;font-size:10px;letter-spacing:-0.1px;left:-89.00px;width:600px;text-align:right;">370</div>
<div class="t" style="top:1787px;font-size:10px;left:49.00px;width:600px;text-align:right;">12</div>
<div class="t" style="top:1805px;font-size:10px;left:-274.00px;width:600px;text-align:center;">7</div>
<div class="t" style="top:1805px;font-size:10px;letter-spacing:-0.15px;left:-445.00px;width:600px;text-align:right;">7 / 0.53</div>
<div class="t" style="top:1805px;font-size:10px;left:-387.20px;width:600px;text-align:right;">1.59</div>
<div class="t" style="top:1805px;font-size:10px;left:-38.50px;width:600px;text-align:center;">0.7</div>
<div class="t" style="top:1805px;font-size:10px;left:-264.00px;width:600px;text-align:right;">12.3</div>
<div class="t" style="top:1805px;font-size:10px;left:-204.30px;width:600px;text-align:right;">16.0</div>
<div class="t" style="top:1805px;font-size:10px;left:141.80px;width:600px;text-align:center;">1.1</div>
<div class="t" style="top:1805px;font-size:10px;letter-spacing:-0.1px;left:-89.00px;width:600px;text-align:right;">380</div>
<div class="t" style="top:1805px;font-size:10px;left:49.00px;width:600px;text-align:right;">11</div>
<div class="t" style="top:1822px;font-size:10px;left:-274.00px;width:600px;text-align:center;">8</div>
<div class="t" style="top:1822px;font-size:10px;letter-spacing:-0.15px;left:-445.00px;width:600px;text-align:right;">7 / 0.53</div>
<div class="t" style="top:1822px;font-size:10px;left:-387.20px;width:600px;text-align:right;">1.59</div>
<div class="t" style="top:1822px;font-size:10px;left:-38.50px;width:600px;text-align:center;">0.7</div>
<div class="t" style="top:1822px;font-size:10px;left:-264.00px;width:600px;text-align:right;">13.3</div>
<div class="t" style="top:1822px;font-size:10px;left:-204.30px;width:600px;text-align:right;">17.0</div>
<div class="t" style="top:1822px;font-size:10px;left:141.80px;width:600px;text-align:center;">1.2</div>
<div class="t" style="top:1822px;font-size:10px;letter-spacing:-0.1px;left:-89.00px;width:600px;text-align:right;">430</div>
<div class="t" style="top:1822px;font-size:10px;left:49.00px;width:600px;text-align:right;">11</div>
<div class="t" style="top:1839px;font-size:10px;left:-274.00px;width:600px;text-align:center;">9</div>
<div class="t" style="top:1839px;font-size:10px;letter-spacing:-0.15px;left:-445.00px;width:600px;text-align:right;">7 / 0.53</div>
<div class="t" style="top:1839px;font-size:10px;left:-387.20px;width:600px;text-align:right;">1.59</div>
<div class="t" style="top:1839px;font-size:10px;left:-38.50px;width:600px;text-align:center;">0.7</div>
<div class="t" style="top:1839px;font-size:10px;left:-264.00px;width:600px;text-align:right;">14.5</div>
<div class="t" style="top:1839px;font-size:10px;left:-204.30px;width:600px;text-align:right;">18.2</div>
<div class="t" style="top:1839px;font-size:10px;left:141.80px;width:600px;text-align:center;">1.2</div>
<div class="t" style="top:1839px;font-size:10px;letter-spacing:-0.1px;left:-89.00px;width:600px;text-align:right;">480</div>
<div class="t" style="top:1839px;font-size:10px;left:49.00px;width:600px;text-align:right;">10</div>
<div class="t" style="top:1856px;font-size:10px;left:-274.00px;width:600px;text-align:center;">10</div>
<div class="t" style="top:1856px;font-size:10px;letter-spacing:-0.15px;left:-445.00px;width:600px;text-align:right;">7 / 0.53</div>
<div class="t" style="top:1856px;font-size:10px;left:-387.20px;width:600px;text-align:right;">1.59</div>
<div class="t" style="top:1856px;font-size:10px;left:-38.50px;width:600px;text-align:center;">0.7</div>
<div class="t" style="top:1856px;font-size:10px;left:-264.00px;width:600px;text-align:right;">15.7</div>
<div class="t" style="top:1856px;font-size:10px;left:-204.30px;width:600px;text-align:right;">19.4</div>
<div class="t" style="top:1856px;font-size:10px;left:141.80px;width:600px;text-align:center;">1.3</div>
<div class="t" style="top:1856px;font-size:10px;letter-spacing:-0.1px;left:-89.00px;width:600px;text-align:right;">530</div>
<div class="t" style="top:1856px;font-size:10px;left:49.00px;width:600px;text-align:right;">10</div>
<div class="t" style="top:1874px;font-size:10px;left:-274.00px;width:600px;text-align:center;">12</div>
<div class="t" style="top:1874px;font-size:10px;letter-spacing:-0.15px;left:-445.00px;width:600px;text-align:right;">7 / 0.53</div>
<div class="t" style="top:1874px;font-size:10px;left:-387.20px;width:600px;text-align:right;">1.59</div>
<div class="t" style="top:1874px;font-size:10px;left:-38.50px;width:600px;text-align:center;">0.7</div>
<div class="t" style="top:1874px;font-size:10px;left:-264.00px;width:600px;text-align:right;">16.2</div>
<div class="t" style="top:1874px;font-size:10px;left:-204.30px;width:600px;text-align:right;">19.9</div>
<div class="t" style="top:1874px;font-size:10px;left:141.80px;width:600px;text-align:center;">1.3</div>
<div class="t" style="top:1874px;font-size:10px;letter-spacing:-0.1px;left:-89.00px;width:600px;text-align:right;">580</div>
<div class="t" style="top:1874px;font-size:10px;left:49.00px;width:600px;text-align:right;">9</div>
<div class="t" style="top:1891px;font-size:10px;left:-274.00px;width:600px;text-align:center;">14</div>
<div class="t" style="top:1891px;font-size:10px;letter-spacing:-0.15px;left:-445.00px;width:600px;text-align:right;">7 / 0.53</div>
<div class="t" style="top:1891px;font-size:10px;left:-387.20px;width:600px;text-align:right;">1.59</div>
<div class="t" style="top:1891px;font-size:10px;left:-38.50px;width:600px;text-align:center;">0.7</div>
<div class="t" style="top:1891px;font-size:10px;left:-264.00px;width:600px;text-align:right;">17.2</div>
<div class="t" style="top:1891px;font-size:10px;left:-204.30px;width:600px;text-align:right;">21.1</div>
<div class="t" style="top:1891px;font-size:10px;left:141.80px;width:600px;text-align:center;">1.3</div>
<div class="t" style="top:1891px;font-size:10px;letter-spacing:-0.1px;left:-89.00px;width:600px;text-align:right;">650</div>
<div class="t" style="top:1891px;font-size:10px;left:49.00px;width:600px;text-align:right;">9</div>
<div class="t" style="top:1908px;font-size:10px;left:-274.00px;width:600px;text-align:center;">15</div>
<div class="t" style="top:1908px;font-size:10px;letter-spacing:-0.15px;left:-445.00px;width:600px;text-align:right;">7 / 0.53</div>
<div class="t" style="top:1908px;font-size:10px;left:-387.20px;width:600px;text-align:right;">1.59</div>
<div class="t" style="top:1908px;font-size:10px;left:-38.50px;width:600px;text-align:center;">0.7</div>
<div class="t" style="top:1908px;font-size:10px;left:-264.00px;width:600px;text-align:right;">17.7</div>
<div class="t" style="top:1908px;font-size:10px;left:-204.30px;width:600px;text-align:right;">21.6</div>
<div class="t" style="top:1908px;font-size:10px;left:141.80px;width:600px;text-align:center;">1.4</div>
<div class="t" style="top:1908px;font-size:10px;letter-spacing:-0.1px;left:-89.00px;width:600px;text-align:right;">680</div>
<div class="t" style="top:1908px;font-size:10px;left:49.00px;width:600px;text-align:right;">9</div>
<div class="t" style="top:1926px;font-size:10px;left:-274.00px;width:600px;text-align:center;">16</div>
<div class="t" style="top:1926px;font-size:10px;letter-spacing:-0.15px;left:-445.00px;width:600px;text-align:right;">7 / 0.53</div>
<div class="t" style="top:1926px;font-size:10px;left:-387.20px;width:600px;text-align:right;">1.59</div>
<div class="t" style="top:1926px;font-size:10px;left:-38.50px;width:600px;text-align:center;">0.7</div>
<div class="t" style="top:1926px;font-size:10px;left:-264.00px;width:600px;text-align:right;">18.1</div>
<div class="t" style="top:1926px;font-size:10px;left:-204.30px;width:600px;text-align:right;">22.0</div>
<div class="t" style="top:1926px;font-size:10px;left:141.80px;width:600px;text-align:center;">1.4</div>
<div class="t" style="top:1926px;font-size:10px;letter-spacing:-0.1px;left:-89.00px;width:600px;text-align:right;">710</div>
<div class="t" style="top:1926px;font-size:10px;left:49.00px;width:600px;text-align:right;">8</div>
<div class="t" style="top:1943px;font-size:10px;left:-274.00px;width:600px;text-align:center;">19</div>
<div class="t" style="top:1943px;font-size:10px;letter-spacing:-0.15px;left:-445.00px;width:600px;text-align:right;">7 / 0.53</div>
<div class="t" style="top:1943px;font-size:10px;left:-387.20px;width:600px;text-align:right;">1.59</div>
<div class="t" style="top:1943px;font-size:10px;left:-38.50px;width:600px;text-align:center;">0.7</div>
<div class="t" style="top:1943px;font-size:10px;left:-264.00px;width:600px;text-align:right;">19.1</div>
<div class="t" style="top:1943px;font-size:10px;left:-204.30px;width:600px;text-align:right;">23.0</div>
<div class="t" style="top:1943px;font-size:10px;left:141.80px;width:600px;text-align:center;">1.4</div>
<div class="t" style="top:1943px;font-size:10px;letter-spacing:-0.1px;left:-89.00px;width:600px;text-align:right;">790</div>
<div class="t" style="top:1943px;font-size:10px;left:49.00px;width:600px;text-align:right;">8</div>
<div class="t" style="top:1960px;font-size:10px;left:-274.00px;width:600px;text-align:center;">20</div>
<div class="t" style="top:1960px;font-size:10px;letter-spacing:-0.15px;left:-445.00px;width:600px;text-align:right;">7 / 0.53</div>
<div class="t" style="top:1960px;font-size:10px;left:-387.20px;width:600px;text-align:right;">1.59</div>
<div class="t" style="top:1960px;font-size:10px;left:-38.50px;width:600px;text-align:center;">0.7</div>
<div class="t" style="top:1960px;font-size:10px;left:-264.00px;width:600px;text-align:right;">19.9</div>
<div class="t" style="top:1960px;font-size:10px;left:-204.30px;width:600px;text-align:right;">23.8</div>
<div class="t" style="top:1960px;font-size:10px;left:141.80px;width:600px;text-align:center;">1.5</div>
<div class="t" style="top:1960px;font-size:10px;letter-spacing:-0.1px;left:-89.00px;width:600px;text-align:right;">840</div>
<div class="t" style="top:1960px;font-size:10px;left:49.00px;width:600px;text-align:right;">8</div>
<div class="t" style="top:1977px;font-size:10px;left:-274.00px;width:600px;text-align:center;">24</div>
<div class="t" style="top:1977px;font-size:10px;letter-spacing:-0.15px;left:-445.00px;width:600px;text-align:right;">7 / 0.53</div>
<div class="t" style="top:1977px;font-size:10px;left:-387.20px;width:600px;text-align:right;">1.59</div>
<div class="t" style="top:1977px;font-size:10px;left:-38.50px;width:600px;text-align:center;">0.7</div>
<div class="t" style="top:1977px;font-size:10px;left:-264.00px;width:600px;text-align:right;">22.7</div>
<div class="t" style="top:1977px;font-size:10px;left:-204.30px;width:600px;text-align:right;">26.8</div>
<div class="t" style="top:1977px;font-size:10px;left:141.80px;width:600px;text-align:center;">1.6</div>
<div class="t" style="top:1977px;font-size:10px;letter-spacing:-0.1px;left:-89.00px;width:600px;text-align:right;">1,020</div>
<div class="t" style="top:1977px;font-size:10px;left:49.00px;width:600px;text-align:right;">7</div>
<div class="t" style="top:1995px;font-size:10px;left:-274.00px;width:600px;text-align:center;">27</div>
<div class="t" style="top:1995px;font-size:10px;letter-spacing:-0.15px;left:-445.00px;width:600px;text-align:right;">7 / 0.53</div>
<div class="t" style="top:1995px;font-size:10px;left:-387.20px;width:600px;text-align:right;">1.59</div>
<div class="t" style="top:1995px;font-size:10px;left:-38.50px;width:600px;text-align:center;">0.7</div>
<div class="t" style="top:1995px;font-size:10px;left:-264.00px;width:600px;text-align:right;">23.2</div>
<div class="t" style="top:1995px;font-size:10px;left:-204.30px;width:600px;text-align:right;">27.3</div>
<div class="t" style="top:1995px;font-size:10px;left:141.80px;width:600px;text-align:center;">1.6</div>
<div class="t" style="top:1995px;font-size:10px;letter-spacing:-0.1px;left:-89.00px;width:600px;text-align:right;">1,080</div>
<div class="t" style="top:1995px;font-size:10px;left:49.00px;width:600px;text-align:right;">7</div>
<div class="t" style="top:2012px;font-size:10px;left:-274.00px;width:600px;text-align:center;">30</div>
<div class="t" style="top:2012px;font-size:10px;letter-spacing:-0.15px;left:-445.00px;width:600px;text-align:right;">7 / 0.53</div>
<div class="t" style="top:2012px;font-size:10px;left:-387.20px;width:600px;text-align:right;">1.59</div>
<div class="t" style="top:2012px;font-size:10px;left:-38.50px;width:600px;text-align:center;">0.7</div>
<div class="t" style="top:2012px;font-size:10px;left:-264.00px;width:600px;text-align:right;">24.0</div>
<div class="t" style="top:2012px;font-size:10px;left:-204.30px;width:600px;text-align:right;">28.1</div>
<div class="t" style="top:2012px;font-size:10px;left:141.80px;width:600px;text-align:center;">1.6</div>
<div class="t" style="top:2012px;font-size:10px;letter-spacing:-0.1px;left:-89.00px;width:600px;text-align:right;">1,160</div>
<div class="t" style="top:2012px;font-size:10px;left:49.00px;width:600px;text-align:right;">7</div>
<div class="t" style="top:2029px;font-size:10px;left:-274.00px;width:600px;text-align:center;">37</div>
<div class="t" style="top:2029px;font-size:10px;letter-spacing:-0.15px;left:-445.00px;width:600px;text-align:right;">7 / 0.53</div>
<div class="t" style="top:2029px;font-size:10px;left:-387.20px;width:600px;text-align:right;">1.59</div>
<div class="t" style="top:2029px;font-size:10px;left:-38.50px;width:600px;text-align:center;">0.7</div>
<div class="t" style="top:2029px;font-size:10px;left:-264.00px;width:600px;text-align:right;">26.1</div>
<div class="t" style="top:2029px;font-size:10px;left:-204.30px;width:600px;text-align:right;">30.4</div>
<div class="t" style="top:2029px;font-size:10px;left:141.80px;width:600px;text-align:center;">1.7</div>
<div class="t" style="top:2029px;font-size:10px;letter-spacing:-0.1px;left:-89.00px;width:600px;text-align:right;">1,370</div>
<div class="t" style="top:2029px;font-size:10px;left:49.00px;width:600px;text-align:right;">7</div>
<div class="t" style="top:1898px;font-size:10px;left:-223.00px;width:600px;text-align:center;">1.5</div>
<div class="t" style="top:1897px;font-size:10px;left:275.30px;width:600px;text-align:center;">12.2</div>
<div class="b" style="left:3.00px;top:2042.00px;width:671.00px;height:1.00px;background:#333"></div>
<div class="b" style="left:3.00px;top:2078.28px;width:44.90px;height:16.89px;background:#d1dce2"></div>
<div class="b" style="left:120.70px;top:2078.28px;width:414.80px;height:16.89px;background:#d1dce2"></div>
<div class="b" style="left:612.70px;top:2078.28px;width:61.30px;height:16.89px;background:#d1dce2"></div>
<div class="b" style="left:3.00px;top:2164.73px;width:44.90px;height:16.89px;background:#d1dce2"></div>
<div class="b" style="left:120.70px;top:2164.73px;width:414.80px;height:16.89px;background:#d1dce2"></div>
<div class="b" style="left:612.70px;top:2164.73px;width:61.30px;height:16.89px;background:#d1dce2"></div>
<div class="b" style="left:3.00px;top:2251.18px;width:44.90px;height:16.89px;background:#d1dce2"></div>
<div class="b" style="left:120.70px;top:2251.18px;width:414.80px;height:16.89px;background:#d1dce2"></div>
<div class="b" style="left:612.70px;top:2251.18px;width:61.30px;height:16.89px;background:#d1dce2"></div>
<div class="t" style="top:2047px;font-size:10px;left:-274.00px;width:600px;text-align:center;">5</div>
<div class="t" style="top:2047px;font-size:10px;letter-spacing:-0.15px;left:-445.00px;width:600px;text-align:right;">7 / 0.67</div>
<div class="t" style="top:2047px;font-size:10px;left:-387.20px;width:600px;text-align:right;">2.01</div>
<div class="t" style="top:2047px;font-size:10px;left:-38.50px;width:600px;text-align:center;">0.7</div>
<div class="t" style="top:2047px;font-size:10px;left:-264.00px;width:600px;text-align:right;">12.4</div>
<div class="t" style="top:2047px;font-size:10px;left:-204.30px;width:600px;text-align:right;">16.1</div>
<div class="t" style="top:2047px;font-size:10px;left:141.80px;width:600px;text-align:center;">1.1</div>
<div class="t" style="top:2047px;font-size:10px;letter-spacing:-0.1px;left:-89.00px;width:600px;text-align:right;">400</div>
<div class="t" style="top:2047px;font-size:10px;left:49.00px;width:600px;text-align:right;">17</div>
<div class="t" style="top:2064px;font-size:10px;left:-274.00px;width:600px;text-align:center;">6</div>
<div class="t" style="top:2064px;font-size:10px;letter-spacing:-0.15px;left:-445.00px;width:600px;text-align:right;">7 / 0.67</div>
<div class="t" style="top:2064px;font-size:10px;left:-387.20px;width:600px;text-align:right;">2.01</div>
<div class="t" style="top:2064px;font-size:10px;left:-38.50px;width:600px;text-align:center;">0.7</div>
<div class="t" style="top:2064px;font-size:10px;left:-264.00px;width:600px;text-align:right;">13.5</div>
<div class="t" style="top:2064px;font-size:10px;left:-204.30px;width:600px;text-align:right;">17.2</div>
<div class="t" style="top:2064px;font-size:10px;left:141.80px;width:600px;text-align:center;">1.2</div>
<div class="t" style="top:2064px;font-size:10px;letter-spacing:-0.1px;left:-89.00px;width:600px;text-align:right;">450</div>
<div class="t" style="top:2064px;font-size:10px;left:49.00px;width:600px;text-align:right;">17</div>
<div class="t" style="top:2082px;font-size:10px;left:-274.00px;width:600px;text-align:center;">7</div>
<div class="t" style="top:2082px;font-size:10px;letter-spacing:-0.15px;left:-445.00px;width:600px;text-align:right;">7 / 0.67</div>
<div class="t" style="top:2082px;font-size:10px;left:-387.20px;width:600px;text-align:right;">2.01</div>
<div class="t" style="top:2082px;font-size:10px;left:-38.50px;width:600px;text-align:center;">0.7</div>
<div class="t" style="top:2082px;font-size:10px;left:-264.00px;width:600px;text-align:right;">13.5</div>
<div class="t" style="top:2082px;font-size:10px;left:-204.30px;width:600px;text-align:right;">17.2</div>
<div class="t" style="top:2082px;font-size:10px;left:141.80px;width:600px;text-align:center;">1.2</div>
<div class="t" style="top:2082px;font-size:10px;letter-spacing:-0.1px;left:-89.00px;width:600px;text-align:right;">470</div>
<div class="t" style="top:2082px;font-size:10px;left:49.00px;width:600px;text-align:right;">15</div>
<div class="t" style="top:2099px;font-size:10px;left:-274.00px;width:600px;text-align:center;">8</div>
<div class="t" style="top:2099px;font-size:10px;letter-spacing:-0.15px;left:-445.00px;width:600px;text-align:right;">7 / 0.67</div>
<div class="t" style="top:2099px;font-size:10px;left:-387.20px;width:600px;text-align:right;">2.01</div>
<div class="t" style="top:2099px;font-size:10px;left:-38.50px;width:600px;text-align:center;">0.7</div>
<div class="t" style="top:2099px;font-size:10px;left:-264.00px;width:600px;text-align:right;">14.8</div>
<div class="t" style="top:2099px;font-size:10px;left:-204.30px;width:600px;text-align:right;">18.5</div>
<div class="t" style="top:2099px;font-size:10px;left:141.80px;width:600px;text-align:center;">1.2</div>
<div class="t" style="top:2099px;font-size:10px;letter-spacing:-0.1px;left:-89.00px;width:600px;text-align:right;">540</div>
<div class="t" style="top:2099px;font-size:10px;left:49.00px;width:600px;text-align:right;">15</div>
<div class="t" style="top:2116px;font-size:10px;left:-274.00px;width:600px;text-align:center;">9</div>
<div class="t" style="top:2116px;font-size:10px;letter-spacing:-0.15px;left:-445.00px;width:600px;text-align:right;">7 / 0.67</div>
<div class="t" style="top:2116px;font-size:10px;left:-387.20px;width:600px;text-align:right;">2.01</div>
<div class="t" style="top:2116px;font-size:10px;left:-38.50px;width:600px;text-align:center;">0.7</div>
<div class="t" style="top:2116px;font-size:10px;left:-264.00px;width:600px;text-align:right;">15.9</div>
<div class="t" style="top:2116px;font-size:10px;left:-204.30px;width:600px;text-align:right;">19.6</div>
<div class="t" style="top:2116px;font-size:10px;left:141.80px;width:600px;text-align:center;">1.3</div>
<div class="t" style="top:2116px;font-size:10px;letter-spacing:-0.1px;left:-89.00px;width:600px;text-align:right;">590</div>
<div class="t" style="top:2116px;font-size:10px;left:49.00px;width:600px;text-align:right;">14</div>
<div class="t" style="top:2134px;font-size:10px;left:-274.00px;width:600px;text-align:center;">10</div>
<div class="t" style="top:2134px;font-size:10px;letter-spacing:-0.15px;left:-445.00px;width:600px;text-align:right;">7 / 0.67</div>
<div class="t" style="top:2134px;font-size:10px;left:-387.20px;width:600px;text-align:right;">2.01</div>
<div class="t" style="top:2134px;font-size:10px;left:-38.50px;width:600px;text-align:center;">0.7</div>
<div class="t" style="top:2134px;font-size:10px;left:-264.00px;width:600px;text-align:right;">17.5</div>
<div class="t" style="top:2134px;font-size:10px;left:-204.30px;width:600px;text-align:right;">21.4</div>
<div class="t" style="top:2134px;font-size:10px;left:141.80px;width:600px;text-align:center;">1.4</div>
<div class="t" style="top:2134px;font-size:10px;letter-spacing:-0.1px;left:-89.00px;width:600px;text-align:right;">680</div>
<div class="t" style="top:2134px;font-size:10px;left:49.00px;width:600px;text-align:right;">13</div>
<div class="t" style="top:2151px;font-size:10px;left:-274.00px;width:600px;text-align:center;">12</div>
<div class="t" style="top:2151px;font-size:10px;letter-spacing:-0.15px;left:-445.00px;width:600px;text-align:right;">7 / 0.67</div>
<div class="t" style="top:2151px;font-size:10px;left:-387.20px;width:600px;text-align:right;">2.01</div>
<div class="t" style="top:2151px;font-size:10px;left:-38.50px;width:600px;text-align:center;">0.7</div>
<div class="t" style="top:2151px;font-size:10px;left:-264.00px;width:600px;text-align:right;">18.1</div>
<div class="t" style="top:2151px;font-size:10px;left:-204.30px;width:600px;text-align:right;">22.0</div>
<div class="t" style="top:2151px;font-size:10px;left:141.80px;width:600px;text-align:center;">1.4</div>
<div class="t" style="top:2151px;font-size:10px;letter-spacing:-0.1px;left:-89.00px;width:600px;text-align:right;">750</div>
<div class="t" style="top:2151px;font-size:10px;left:49.00px;width:600px;text-align:right;">12</div>
<div class="t" style="top:2168px;font-size:10px;left:-274.00px;width:600px;text-align:center;">14</div>
<div class="t" style="top:2168px;font-size:10px;letter-spacing:-0.15px;left:-445.00px;width:600px;text-align:right;">7 / 0.67</div>
<div class="t" style="top:2168px;font-size:10px;left:-387.20px;width:600px;text-align:right;">2.01</div>
<div class="t" style="top:2168px;font-size:10px;left:-38.50px;width:600px;text-align:center;">0.7</div>
<div class="t" style="top:2168px;font-size:10px;left:-264.00px;width:600px;text-align:right;">19.0</div>
<div class="t" style="top:2168px;font-size:10px;left:-204.30px;width:600px;text-align:right;">22.9</div>
<div class="t" style="top:2168px;font-size:10px;left:141.80px;width:600px;text-align:center;">1.4</div>
<div class="t" style="top:2168px;font-size:10px;letter-spacing:-0.1px;left:-89.00px;width:600px;text-align:right;">830</div>
<div class="t" style="top:2168px;font-size:10px;left:49.00px;width:600px;text-align:right;">12</div>
<div class="t" style="top:2185px;font-size:10px;left:-274.00px;width:600px;text-align:center;">15</div>
<div class="t" style="top:2185px;font-size:10px;letter-spacing:-0.15px;left:-445.00px;width:600px;text-align:right;">7 / 0.67</div>
<div class="t" style="top:2185px;font-size:10px;left:-387.20px;width:600px;text-align:right;">2.01</div>
<div class="t" style="top:2185px;font-size:10px;left:-38.50px;width:600px;text-align:center;">0.7</div>
<div class="t" style="top:2185px;font-size:10px;left:-264.00px;width:600px;text-align:right;">19.7</div>
<div class="t" style="top:2185px;font-size:10px;left:-204.30px;width:600px;text-align:right;">23.6</div>
<div class="t" style="top:2185px;font-size:10px;left:141.80px;width:600px;text-align:center;">1.4</div>
<div class="t" style="top:2185px;font-size:10px;letter-spacing:-0.1px;left:-89.00px;width:600px;text-align:right;">880</div>
<div class="t" style="top:2185px;font-size:10px;left:49.00px;width:600px;text-align:right;">11</div>
<div class="t" style="top:2203px;font-size:10px;left:-274.00px;width:600px;text-align:center;">16</div>
<div class="t" style="top:2203px;font-size:10px;letter-spacing:-0.15px;left:-445.00px;width:600px;text-align:right;">7 / 0.67</div>
<div class="t" style="top:2203px;font-size:10px;left:-387.20px;width:600px;text-align:right;">2.01</div>
<div class="t" style="top:2203px;font-size:10px;left:-38.50px;width:600px;text-align:center;">0.7</div>
<div class="t" style="top:2203px;font-size:10px;left:-264.00px;width:600px;text-align:right;">20.2</div>
<div class="t" style="top:2203px;font-size:10px;left:-204.30px;width:600px;text-align:right;">24.1</div>
<div class="t" style="top:2203px;font-size:10px;left:141.80px;width:600px;text-align:center;">1.5</div>
<div class="t" style="top:2203px;font-size:10px;letter-spacing:-0.1px;left:-89.00px;width:600px;text-align:right;">920</div>
<div class="t" style="top:2203px;font-size:10px;left:49.00px;width:600px;text-align:right;">11</div>
<div class="t" style="top:2220px;font-size:10px;left:-274.00px;width:600px;text-align:center;">19</div>
<div class="t" style="top:2220px;font-size:10px;letter-spacing:-0.15px;left:-445.00px;width:600px;text-align:right;">7 / 0.67</div>
<div class="t" style="top:2220px;font-size:10px;left:-387.20px;width:600px;text-align:right;">2.01</div>
<div class="t" style="top:2220px;font-size:10px;left:-38.50px;width:600px;text-align:center;">0.7</div>
<div class="t" style="top:2220px;font-size:10px;left:-264.00px;width:600px;text-align:right;">21.3</div>
<div class="t" style="top:2220px;font-size:10px;left:-204.30px;width:600px;text-align:right;">25.4</div>
<div class="t" style="top:2220px;font-size:10px;left:141.80px;width:600px;text-align:center;">1.5</div>
<div class="t" style="top:2220px;font-size:10px;letter-spacing:-0.1px;left:-89.00px;width:600px;text-align:right;">1,040</div>
<div class="t" style="top:2220px;font-size:10px;left:49.00px;width:600px;text-align:right;">11</div>
<div class="t" style="top:2237px;font-size:10px;left:-274.00px;width:600px;text-align:center;">20</div>
<div class="t" style="top:2237px;font-size:10px;letter-spacing:-0.15px;left:-445.00px;width:600px;text-align:right;">7 / 0.67</div>
<div class="t" style="top:2237px;font-size:10px;left:-387.20px;width:600px;text-align:right;">2.01</div>
<div class="t" style="top:2237px;font-size:10px;left:-38.50px;width:600px;text-align:center;">0.7</div>
<div class="t" style="top:2237px;font-size:10px;left:-264.00px;width:600px;text-align:right;">21.9</div>
<div class="t" style="top:2237px;font-size:10px;left:-204.30px;width:600px;text-align:right;">26.0</div>
<div class="t" style="top:2237px;font-size:10px;left:141.80px;width:600px;text-align:center;">1.5</div>
<div class="t" style="top:2237px;font-size:10px;letter-spacing:-0.1px;left:-89.00px;width:600px;text-align:right;">1,090</div>
<div class="t" style="top:2237px;font-size:10px;left:49.00px;width:600px;text-align:right;">10</div>
<div class="t" style="top:2255px;font-size:10px;left:-274.00px;width:600px;text-align:center;">24</div>
<div class="t" style="top:2255px;font-size:10px;letter-spacing:-0.15px;left:-445.00px;width:600px;text-align:right;">7 / 0.67</div>
<div class="t" style="top:2255px;font-size:10px;left:-387.20px;width:600px;text-align:right;">2.01</div>
<div class="t" style="top:2255px;font-size:10px;left:-38.50px;width:600px;text-align:center;">0.7</div>
<div class="t" style="top:2255px;font-size:10px;left:-264.00px;width:600px;text-align:right;">25.3</div>
<div class="t" style="top:2255px;font-size:10px;left:-204.30px;width:600px;text-align:right;">29.6</div>
<div class="t" style="top:2255px;font-size:10px;left:141.80px;width:600px;text-align:center;">1.7</div>
<div class="t" style="top:2255px;font-size:10px;letter-spacing:-0.1px;left:-89.00px;width:600px;text-align:right;">1,340</div>
<div class="t" style="top:2255px;font-size:10px;left:49.00px;width:600px;text-align:right;">10</div>
<div class="t" style="top:2272px;font-size:10px;left:-274.00px;width:600px;text-align:center;">27</div>
<div class="t" style="top:2272px;font-size:10px;letter-spacing:-0.15px;left:-445.00px;width:600px;text-align:right;">7 / 0.67</div>
<div class="t" style="top:2272px;font-size:10px;left:-387.20px;width:600px;text-align:right;">2.01</div>
<div class="t" style="top:2272px;font-size:10px;left:-38.50px;width:600px;text-align:center;">0.7</div>
<div class="t" style="top:2272px;font-size:10px;left:-264.00px;width:600px;text-align:right;">25.9</div>
<div class="t" style="top:2272px;font-size:10px;left:-204.30px;width:600px;text-align:right;">30.2</div>
<div class="t" style="top:2272px;font-size:10px;left:141.80px;width:600px;text-align:center;">1.7</div>
<div class="t" style="top:2272px;font-size:10px;letter-spacing:-0.1px;left:-89.00px;width:600px;text-align:right;">1,430</div>
<div class="t" style="top:2272px;font-size:10px;left:49.00px;width:600px;text-align:right;">9</div>
<div class="t" style="top:2289px;font-size:10px;left:-274.00px;width:600px;text-align:center;">30</div>
<div class="t" style="top:2289px;font-size:10px;letter-spacing:-0.15px;left:-445.00px;width:600px;text-align:right;">7 / 0.67</div>
<div class="t" style="top:2289px;font-size:10px;left:-387.20px;width:600px;text-align:right;">2.01</div>
<div class="t" style="top:2289px;font-size:10px;left:-38.50px;width:600px;text-align:center;">0.7</div>
<div class="t" style="top:2289px;font-size:10px;left:-264.00px;width:600px;text-align:right;">26.8</div>
<div class="t" style="top:2289px;font-size:10px;left:-204.30px;width:600px;text-align:right;">31.1</div>
<div class="t" style="top:2289px;font-size:10px;left:141.80px;width:600px;text-align:center;">1.7</div>
<div class="t" style="top:2289px;font-size:10px;letter-spacing:-0.1px;left:-89.00px;width:600px;text-align:right;">1,540</div>
<div class="t" style="top:2289px;font-size:10px;left:49.00px;width:600px;text-align:right;">9</div>
<div class="t" style="top:2306px;font-size:10px;left:-274.00px;width:600px;text-align:center;">37</div>
<div class="t" style="top:2306px;font-size:10px;letter-spacing:-0.15px;left:-445.00px;width:600px;text-align:right;">7 / 0.67</div>
<div class="t" style="top:2306px;font-size:10px;left:-387.20px;width:600px;text-align:right;">2.01</div>
<div class="t" style="top:2306px;font-size:10px;left:-38.50px;width:600px;text-align:center;">0.7</div>
<div class="t" style="top:2306px;font-size:10px;left:-264.00px;width:600px;text-align:right;">29.1</div>
<div class="t" style="top:2306px;font-size:10px;left:-204.30px;width:600px;text-align:right;">33.6</div>
<div class="t" style="top:2306px;font-size:10px;left:141.80px;width:600px;text-align:center;">1.8</div>
<div class="t" style="top:2306px;font-size:10px;letter-spacing:-0.1px;left:-89.00px;width:600px;text-align:right;">1,830</div>
<div class="t" style="top:2306px;font-size:10px;left:49.00px;width:600px;text-align:right;">9</div>
<div class="t" style="top:2174px;font-size:10px;left:-223.00px;width:600px;text-align:center;">2.5</div>
<div class="t" style="top:2174px;font-size:10px;left:275.30px;width:600px;text-align:center;">7.56</div>
<div class="b" style="left:3.00px;top:2319.90px;width:671.00px;height:1.00px;background:#1a1a1a"></div>
</body></html>
